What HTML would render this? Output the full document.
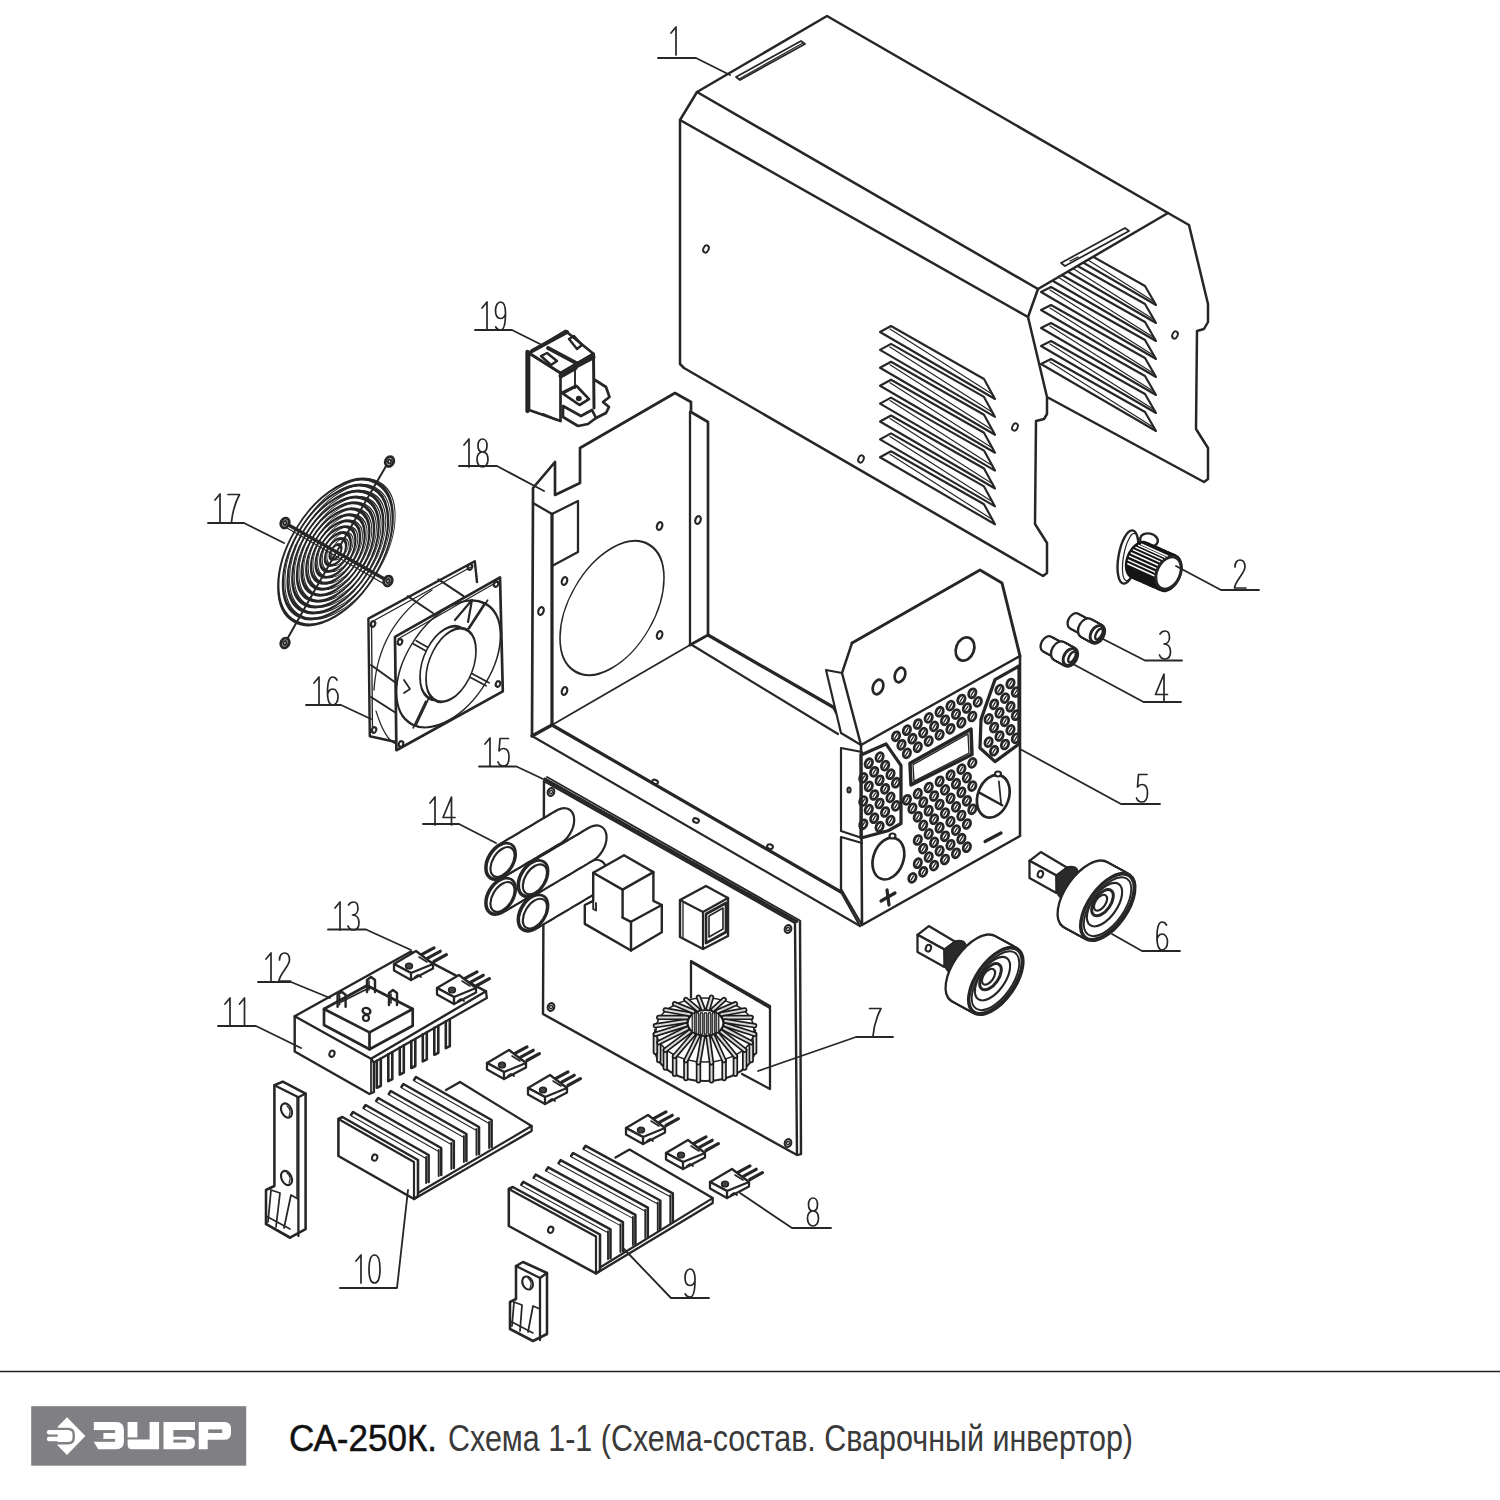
<!DOCTYPE html>
<html><head><meta charset="utf-8"><style>
html,body{margin:0;padding:0;background:#fff;}
body{width:1500px;height:1500px;position:relative;overflow:hidden;}
svg.d{position:absolute;left:0;top:0;}
.t{position:absolute;left:289px;top:1413px;font-family:"Liberation Sans",sans-serif;white-space:nowrap;color:#111;}
</style></head><body>
<svg class="d" width="1500" height="1500" viewBox="0 0 1500 1500">
<rect width="1500" height="1500" fill="#fff"/>
<g fill="none" stroke="#262626" stroke-width="2.5" stroke-linejoin="round" stroke-linecap="round">
<path d="M1038.0,289.0 L1028.0,317.0 L1047.0,397.0 L1047.0,414.0 L1044.0,419.0 L1036.0,421.0 L1035.0,524.0 L1047.0,543.0 L1047.0,573.0 L1043.0,576.0 L684.0,368.0 L680.0,364.0 L680.0,120.0 L697.0,92.0 L827.0,16.0 L1168.0,213.0 L1189.0,225.0 L1208.0,304.0 L1208.0,322.0 L1204.0,329.0 L1197.0,331.0 L1196.0,429.0 L1208.0,448.0 L1208.0,479.0 L1204.0,482.0 L1047.0,397.0"/><line x1="697.0" y1="92.0" x2="1038.0" y2="289.0"/><line x1="680.0" y1="120.0" x2="1028.0" y2="317.0"/><line x1="1038.0" y1="289.0" x2="1168.0" y2="213.0"/><path d="M736.0,77.0 L801.0,41.0 L805.0,44.0 L740.0,80.0 Z" stroke-width="1.76"/><line x1="739.0" y1="79.0" x2="803.0" y2="43.0" stroke-width="1.22"/><path d="M1061.0,263.0 L1125.0,228.0 L1129.0,231.0 L1065.0,266.0 Z" stroke-width="1.76"/><line x1="1070.0" y1="261.0" x2="1078.0" y2="257.0" stroke-width="1.35"/><path d="M880.0,332.0 L891.0,326.0 L984.0,379.0 L995.0,399.0 Z" stroke-width="2.16"/><line x1="890.0" y1="329.0" x2="992.0" y2="394.0" stroke-width="1.22"/><path d="M880.0,349.9 L891.0,343.9 L984.0,396.9 L995.0,416.9 Z" stroke-width="2.16"/><line x1="890.0" y1="346.9" x2="992.0" y2="411.9" stroke-width="1.22"/><path d="M880.0,367.8 L891.0,361.8 L984.0,414.8 L995.0,434.8 Z" stroke-width="2.16"/><line x1="890.0" y1="364.8" x2="992.0" y2="429.8" stroke-width="1.22"/><path d="M880.0,385.7 L891.0,379.7 L984.0,432.7 L995.0,452.7 Z" stroke-width="2.16"/><line x1="890.0" y1="382.7" x2="992.0" y2="447.7" stroke-width="1.22"/><path d="M880.0,403.6 L891.0,397.6 L984.0,450.6 L995.0,470.6 Z" stroke-width="2.16"/><line x1="890.0" y1="400.6" x2="992.0" y2="465.6" stroke-width="1.22"/><path d="M880.0,421.5 L891.0,415.5 L984.0,468.5 L995.0,488.5 Z" stroke-width="2.16"/><line x1="890.0" y1="418.5" x2="992.0" y2="483.5" stroke-width="1.22"/><path d="M880.0,439.4 L891.0,433.4 L984.0,486.4 L995.0,506.4 Z" stroke-width="2.16"/><line x1="890.0" y1="436.4" x2="992.0" y2="501.4" stroke-width="1.22"/><path d="M880.0,457.3 L891.0,451.3 L984.0,504.3 L995.0,524.3 Z" stroke-width="2.16"/><line x1="890.0" y1="454.3" x2="992.0" y2="519.3" stroke-width="1.22"/><clipPath id="cb"><path d="M1038,289 L1168,213 L1215,213 L1215,500 L1030,500 Z"/></clipPath><g clip-path="url(#cb)"><path d="M1041.0,238.0 L1051.0,233.0 L1145.0,286.0 L1156.0,305.0 Z" stroke-width="2.16"/><line x1="1050.0" y1="236.0" x2="1153.0" y2="301.0" stroke-width="1.22"/><path d="M1041.0,256.0 L1051.0,251.0 L1145.0,304.0 L1156.0,323.0 Z" stroke-width="2.16"/><line x1="1050.0" y1="254.0" x2="1153.0" y2="319.0" stroke-width="1.22"/><path d="M1041.0,274.0 L1051.0,269.0 L1145.0,322.0 L1156.0,341.0 Z" stroke-width="2.16"/><line x1="1050.0" y1="272.0" x2="1153.0" y2="337.0" stroke-width="1.22"/><path d="M1041.0,292.0 L1051.0,287.0 L1145.0,340.0 L1156.0,359.0 Z" stroke-width="2.16"/><line x1="1050.0" y1="290.0" x2="1153.0" y2="355.0" stroke-width="1.22"/><path d="M1041.0,310.0 L1051.0,305.0 L1145.0,358.0 L1156.0,377.0 Z" stroke-width="2.16"/><line x1="1050.0" y1="308.0" x2="1153.0" y2="373.0" stroke-width="1.22"/><path d="M1041.0,328.0 L1051.0,323.0 L1145.0,376.0 L1156.0,395.0 Z" stroke-width="2.16"/><line x1="1050.0" y1="326.0" x2="1153.0" y2="391.0" stroke-width="1.22"/><path d="M1041.0,346.0 L1051.0,341.0 L1145.0,394.0 L1156.0,413.0 Z" stroke-width="2.16"/><line x1="1050.0" y1="344.0" x2="1153.0" y2="409.0" stroke-width="1.22"/><path d="M1041.0,364.0 L1051.0,359.0 L1145.0,412.0 L1156.0,431.0 Z" stroke-width="2.16"/><line x1="1050.0" y1="362.0" x2="1153.0" y2="427.0" stroke-width="1.22"/></g><ellipse cx="706.0" cy="249.0" rx="2.6" ry="3.8" transform="rotate(25 706.0 249.0)" stroke-width="1.89"/><ellipse cx="861.0" cy="459.0" rx="2.6" ry="3.8" transform="rotate(25 861.0 459.0)" stroke-width="1.89"/><ellipse cx="1015.0" cy="427.0" rx="2.6" ry="3.8" transform="rotate(25 1015.0 427.0)" stroke-width="1.89"/><ellipse cx="1175.0" cy="335.0" rx="2.6" ry="3.8" transform="rotate(25 1175.0 335.0)" stroke-width="1.89"/><path transform="translate(669.0,27.0) scale(1.000)" d="M2,6 L7,0 L7,28" stroke-width="1.70"/><path d="M658.0,58.0 L696.0,58.0 L730.0,75.0" stroke-width="1.82"/><ellipse cx="1128.0" cy="557.0" rx="9.5" ry="27.0" transform="rotate(10 1128.0 557.0)" stroke-width="2.43" fill="#fff"/><ellipse cx="1130.5" cy="557.0" rx="7.0" ry="24.0" transform="rotate(10 1130.5 557.0)" stroke-width="1.22"/><ellipse cx="1149.0" cy="540.0" rx="9.0" ry="6.5" transform="rotate(12 1149.0 540.0)" stroke-width="2.43" fill="#fff"/><ellipse cx="1139.0" cy="560.0" rx="13" ry="20" transform="rotate(22 1139.0 560.0)" fill="#151515" stroke="none"/><ellipse cx="1141.5" cy="561.1" rx="13" ry="20" transform="rotate(22 1141.5 561.1)" fill="#151515" stroke="none"/><ellipse cx="1143.9" cy="562.2" rx="13" ry="20" transform="rotate(22 1143.9 562.2)" fill="#151515" stroke="none"/><ellipse cx="1146.4" cy="563.2" rx="13" ry="20" transform="rotate(22 1146.4 563.2)" fill="#151515" stroke="none"/><ellipse cx="1148.8" cy="564.3" rx="13" ry="20" transform="rotate(22 1148.8 564.3)" fill="#151515" stroke="none"/><ellipse cx="1151.3" cy="565.4" rx="13" ry="20" transform="rotate(22 1151.3 565.4)" fill="#151515" stroke="none"/><ellipse cx="1153.8" cy="566.5" rx="13" ry="20" transform="rotate(22 1153.8 566.5)" fill="#151515" stroke="none"/><ellipse cx="1156.2" cy="567.6" rx="13" ry="20" transform="rotate(22 1156.2 567.6)" fill="#151515" stroke="none"/><ellipse cx="1158.7" cy="568.7" rx="13" ry="20" transform="rotate(22 1158.7 568.7)" fill="#151515" stroke="none"/><ellipse cx="1161.1" cy="569.8" rx="13" ry="20" transform="rotate(22 1161.1 569.8)" fill="#151515" stroke="none"/><ellipse cx="1163.6" cy="570.8" rx="13" ry="20" transform="rotate(22 1163.6 570.8)" fill="#151515" stroke="none"/><ellipse cx="1166.0" cy="571.9" rx="13" ry="20" transform="rotate(22 1166.0 571.9)" fill="#151515" stroke="none"/><ellipse cx="1168.5" cy="573.0" rx="13" ry="20" transform="rotate(22 1168.5 573.0)" fill="#151515" stroke="none"/><line x1="1127.8" y1="563.7" x2="1154.3" y2="575.7" stroke="#fff" stroke-width="1.5"/><line x1="1128.4" y1="560.1" x2="1154.9" y2="572.1" stroke="#fff" stroke-width="1.5"/><line x1="1129.6" y1="556.4" x2="1156.1" y2="568.4" stroke="#fff" stroke-width="1.5"/><line x1="1131.3" y1="553.0" x2="1157.8" y2="565.0" stroke="#fff" stroke-width="1.5"/><line x1="1133.4" y1="549.9" x2="1159.9" y2="561.9" stroke="#fff" stroke-width="1.5"/><line x1="1136.0" y1="547.4" x2="1162.5" y2="559.4" stroke="#fff" stroke-width="1.5"/><line x1="1138.7" y1="545.4" x2="1165.2" y2="557.4" stroke="#fff" stroke-width="1.5"/><line x1="1141.5" y1="544.3" x2="1168.0" y2="556.3" stroke="#fff" stroke-width="1.5"/><ellipse cx="1168.5" cy="573.0" rx="11.5" ry="17.0" transform="rotate(25 1168.5 573.0)" stroke-width="2.97" fill="#fff"/><path transform="translate(1234.0,560.0) scale(1.000)" d="M1,7 C1,2 3.5,0 6,0 C9,0 11,2.5 11,7 C11,13 1,21 0.5,28 L12,28" stroke-width="1.70"/><path d="M1176.0,566.0 L1221.0,590.0 L1259.0,590.0" stroke-width="1.82"/><ellipse cx="1074.0" cy="621.0" rx="4.5" ry="7.2" transform="rotate(30 1074.0 621.0)" stroke-width="4.6"/><ellipse cx="1075.1" cy="621.6" rx="4.5" ry="7.2" transform="rotate(30 1075.1 621.6)" stroke-width="4.6"/><ellipse cx="1076.2" cy="622.2" rx="4.5" ry="7.2" transform="rotate(30 1076.2 622.2)" stroke-width="4.6"/><ellipse cx="1077.2" cy="622.8" rx="4.5" ry="7.2" transform="rotate(30 1077.2 622.8)" stroke-width="4.6"/><ellipse cx="1078.3" cy="623.3" rx="4.5" ry="7.2" transform="rotate(30 1078.3 623.3)" stroke-width="4.6"/><ellipse cx="1079.4" cy="623.9" rx="4.5" ry="7.2" transform="rotate(30 1079.4 623.9)" stroke-width="4.6"/><ellipse cx="1080.5" cy="624.5" rx="4.5" ry="7.2" transform="rotate(30 1080.5 624.5)" stroke-width="4.6"/><ellipse cx="1081.6" cy="625.1" rx="4.5" ry="7.2" transform="rotate(30 1081.6 625.1)" stroke-width="4.6"/><ellipse cx="1082.7" cy="625.7" rx="4.5" ry="7.2" transform="rotate(30 1082.7 625.7)" stroke-width="4.6"/><ellipse cx="1083.8" cy="626.2" rx="4.5" ry="7.2" transform="rotate(30 1083.8 626.2)" stroke-width="4.6"/><ellipse cx="1084.8" cy="626.8" rx="4.5" ry="7.2" transform="rotate(30 1084.8 626.8)" stroke-width="4.6"/><ellipse cx="1085.9" cy="627.4" rx="4.5" ry="7.2" transform="rotate(30 1085.9 627.4)" stroke-width="4.6"/><ellipse cx="1087.0" cy="628.0" rx="4.5" ry="7.2" transform="rotate(30 1087.0 628.0)" stroke-width="4.6"/><ellipse cx="1074.0" cy="621.0" rx="4.5" ry="7.2" transform="rotate(30 1074.0 621.0)" fill="#fff" stroke="none"/><ellipse cx="1075.1" cy="621.6" rx="4.5" ry="7.2" transform="rotate(30 1075.1 621.6)" fill="#fff" stroke="none"/><ellipse cx="1076.2" cy="622.2" rx="4.5" ry="7.2" transform="rotate(30 1076.2 622.2)" fill="#fff" stroke="none"/><ellipse cx="1077.2" cy="622.8" rx="4.5" ry="7.2" transform="rotate(30 1077.2 622.8)" fill="#fff" stroke="none"/><ellipse cx="1078.3" cy="623.3" rx="4.5" ry="7.2" transform="rotate(30 1078.3 623.3)" fill="#fff" stroke="none"/><ellipse cx="1079.4" cy="623.9" rx="4.5" ry="7.2" transform="rotate(30 1079.4 623.9)" fill="#fff" stroke="none"/><ellipse cx="1080.5" cy="624.5" rx="4.5" ry="7.2" transform="rotate(30 1080.5 624.5)" fill="#fff" stroke="none"/><ellipse cx="1081.6" cy="625.1" rx="4.5" ry="7.2" transform="rotate(30 1081.6 625.1)" fill="#fff" stroke="none"/><ellipse cx="1082.7" cy="625.7" rx="4.5" ry="7.2" transform="rotate(30 1082.7 625.7)" fill="#fff" stroke="none"/><ellipse cx="1083.8" cy="626.2" rx="4.5" ry="7.2" transform="rotate(30 1083.8 626.2)" fill="#fff" stroke="none"/><ellipse cx="1084.8" cy="626.8" rx="4.5" ry="7.2" transform="rotate(30 1084.8 626.8)" fill="#fff" stroke="none"/><ellipse cx="1085.9" cy="627.4" rx="4.5" ry="7.2" transform="rotate(30 1085.9 627.4)" fill="#fff" stroke="none"/><ellipse cx="1087.0" cy="628.0" rx="4.5" ry="7.2" transform="rotate(30 1087.0 628.0)" fill="#fff" stroke="none"/><ellipse cx="1086.0" cy="628.0" rx="6" ry="9" transform="rotate(30 1086.0 628.0)" stroke-width="4.6"/><ellipse cx="1086.9" cy="628.5" rx="6" ry="9" transform="rotate(30 1086.9 628.5)" stroke-width="4.6"/><ellipse cx="1087.8" cy="629.0" rx="6" ry="9" transform="rotate(30 1087.8 629.0)" stroke-width="4.6"/><ellipse cx="1088.8" cy="629.5" rx="6" ry="9" transform="rotate(30 1088.8 629.5)" stroke-width="4.6"/><ellipse cx="1089.7" cy="630.0" rx="6" ry="9" transform="rotate(30 1089.7 630.0)" stroke-width="4.6"/><ellipse cx="1090.6" cy="630.5" rx="6" ry="9" transform="rotate(30 1090.6 630.5)" stroke-width="4.6"/><ellipse cx="1091.5" cy="631.0" rx="6" ry="9" transform="rotate(30 1091.5 631.0)" stroke-width="4.6"/><ellipse cx="1092.4" cy="631.5" rx="6" ry="9" transform="rotate(30 1092.4 631.5)" stroke-width="4.6"/><ellipse cx="1093.3" cy="632.0" rx="6" ry="9" transform="rotate(30 1093.3 632.0)" stroke-width="4.6"/><ellipse cx="1094.2" cy="632.5" rx="6" ry="9" transform="rotate(30 1094.2 632.5)" stroke-width="4.6"/><ellipse cx="1095.2" cy="633.0" rx="6" ry="9" transform="rotate(30 1095.2 633.0)" stroke-width="4.6"/><ellipse cx="1096.1" cy="633.5" rx="6" ry="9" transform="rotate(30 1096.1 633.5)" stroke-width="4.6"/><ellipse cx="1097.0" cy="634.0" rx="6" ry="9" transform="rotate(30 1097.0 634.0)" stroke-width="4.6"/><ellipse cx="1086.0" cy="628.0" rx="6" ry="9" transform="rotate(30 1086.0 628.0)" fill="#fff" stroke="none"/><ellipse cx="1086.9" cy="628.5" rx="6" ry="9" transform="rotate(30 1086.9 628.5)" fill="#fff" stroke="none"/><ellipse cx="1087.8" cy="629.0" rx="6" ry="9" transform="rotate(30 1087.8 629.0)" fill="#fff" stroke="none"/><ellipse cx="1088.8" cy="629.5" rx="6" ry="9" transform="rotate(30 1088.8 629.5)" fill="#fff" stroke="none"/><ellipse cx="1089.7" cy="630.0" rx="6" ry="9" transform="rotate(30 1089.7 630.0)" fill="#fff" stroke="none"/><ellipse cx="1090.6" cy="630.5" rx="6" ry="9" transform="rotate(30 1090.6 630.5)" fill="#fff" stroke="none"/><ellipse cx="1091.5" cy="631.0" rx="6" ry="9" transform="rotate(30 1091.5 631.0)" fill="#fff" stroke="none"/><ellipse cx="1092.4" cy="631.5" rx="6" ry="9" transform="rotate(30 1092.4 631.5)" fill="#fff" stroke="none"/><ellipse cx="1093.3" cy="632.0" rx="6" ry="9" transform="rotate(30 1093.3 632.0)" fill="#fff" stroke="none"/><ellipse cx="1094.2" cy="632.5" rx="6" ry="9" transform="rotate(30 1094.2 632.5)" fill="#fff" stroke="none"/><ellipse cx="1095.2" cy="633.0" rx="6" ry="9" transform="rotate(30 1095.2 633.0)" fill="#fff" stroke="none"/><ellipse cx="1096.1" cy="633.5" rx="6" ry="9" transform="rotate(30 1096.1 633.5)" fill="#fff" stroke="none"/><ellipse cx="1097.0" cy="634.0" rx="6" ry="9" transform="rotate(30 1097.0 634.0)" fill="#fff" stroke="none"/><ellipse cx="1097.0" cy="634.0" rx="6.0" ry="9.0" transform="rotate(30 1097.0 634.0)" stroke-width="2.97"/><ellipse cx="1099.0" cy="634.0" rx="2.8" ry="6.0" transform="rotate(30 1099.0 634.0)" stroke-width="2.43"/><ellipse cx="1047.0" cy="644.0" rx="4.5" ry="7.2" transform="rotate(30 1047.0 644.0)" stroke-width="4.6"/><ellipse cx="1048.1" cy="644.6" rx="4.5" ry="7.2" transform="rotate(30 1048.1 644.6)" stroke-width="4.6"/><ellipse cx="1049.2" cy="645.2" rx="4.5" ry="7.2" transform="rotate(30 1049.2 645.2)" stroke-width="4.6"/><ellipse cx="1050.2" cy="645.8" rx="4.5" ry="7.2" transform="rotate(30 1050.2 645.8)" stroke-width="4.6"/><ellipse cx="1051.3" cy="646.3" rx="4.5" ry="7.2" transform="rotate(30 1051.3 646.3)" stroke-width="4.6"/><ellipse cx="1052.4" cy="646.9" rx="4.5" ry="7.2" transform="rotate(30 1052.4 646.9)" stroke-width="4.6"/><ellipse cx="1053.5" cy="647.5" rx="4.5" ry="7.2" transform="rotate(30 1053.5 647.5)" stroke-width="4.6"/><ellipse cx="1054.6" cy="648.1" rx="4.5" ry="7.2" transform="rotate(30 1054.6 648.1)" stroke-width="4.6"/><ellipse cx="1055.7" cy="648.7" rx="4.5" ry="7.2" transform="rotate(30 1055.7 648.7)" stroke-width="4.6"/><ellipse cx="1056.8" cy="649.2" rx="4.5" ry="7.2" transform="rotate(30 1056.8 649.2)" stroke-width="4.6"/><ellipse cx="1057.8" cy="649.8" rx="4.5" ry="7.2" transform="rotate(30 1057.8 649.8)" stroke-width="4.6"/><ellipse cx="1058.9" cy="650.4" rx="4.5" ry="7.2" transform="rotate(30 1058.9 650.4)" stroke-width="4.6"/><ellipse cx="1060.0" cy="651.0" rx="4.5" ry="7.2" transform="rotate(30 1060.0 651.0)" stroke-width="4.6"/><ellipse cx="1047.0" cy="644.0" rx="4.5" ry="7.2" transform="rotate(30 1047.0 644.0)" fill="#fff" stroke="none"/><ellipse cx="1048.1" cy="644.6" rx="4.5" ry="7.2" transform="rotate(30 1048.1 644.6)" fill="#fff" stroke="none"/><ellipse cx="1049.2" cy="645.2" rx="4.5" ry="7.2" transform="rotate(30 1049.2 645.2)" fill="#fff" stroke="none"/><ellipse cx="1050.2" cy="645.8" rx="4.5" ry="7.2" transform="rotate(30 1050.2 645.8)" fill="#fff" stroke="none"/><ellipse cx="1051.3" cy="646.3" rx="4.5" ry="7.2" transform="rotate(30 1051.3 646.3)" fill="#fff" stroke="none"/><ellipse cx="1052.4" cy="646.9" rx="4.5" ry="7.2" transform="rotate(30 1052.4 646.9)" fill="#fff" stroke="none"/><ellipse cx="1053.5" cy="647.5" rx="4.5" ry="7.2" transform="rotate(30 1053.5 647.5)" fill="#fff" stroke="none"/><ellipse cx="1054.6" cy="648.1" rx="4.5" ry="7.2" transform="rotate(30 1054.6 648.1)" fill="#fff" stroke="none"/><ellipse cx="1055.7" cy="648.7" rx="4.5" ry="7.2" transform="rotate(30 1055.7 648.7)" fill="#fff" stroke="none"/><ellipse cx="1056.8" cy="649.2" rx="4.5" ry="7.2" transform="rotate(30 1056.8 649.2)" fill="#fff" stroke="none"/><ellipse cx="1057.8" cy="649.8" rx="4.5" ry="7.2" transform="rotate(30 1057.8 649.8)" fill="#fff" stroke="none"/><ellipse cx="1058.9" cy="650.4" rx="4.5" ry="7.2" transform="rotate(30 1058.9 650.4)" fill="#fff" stroke="none"/><ellipse cx="1060.0" cy="651.0" rx="4.5" ry="7.2" transform="rotate(30 1060.0 651.0)" fill="#fff" stroke="none"/><ellipse cx="1059.0" cy="651.0" rx="6" ry="9" transform="rotate(30 1059.0 651.0)" stroke-width="4.6"/><ellipse cx="1059.9" cy="651.5" rx="6" ry="9" transform="rotate(30 1059.9 651.5)" stroke-width="4.6"/><ellipse cx="1060.8" cy="652.0" rx="6" ry="9" transform="rotate(30 1060.8 652.0)" stroke-width="4.6"/><ellipse cx="1061.8" cy="652.5" rx="6" ry="9" transform="rotate(30 1061.8 652.5)" stroke-width="4.6"/><ellipse cx="1062.7" cy="653.0" rx="6" ry="9" transform="rotate(30 1062.7 653.0)" stroke-width="4.6"/><ellipse cx="1063.6" cy="653.5" rx="6" ry="9" transform="rotate(30 1063.6 653.5)" stroke-width="4.6"/><ellipse cx="1064.5" cy="654.0" rx="6" ry="9" transform="rotate(30 1064.5 654.0)" stroke-width="4.6"/><ellipse cx="1065.4" cy="654.5" rx="6" ry="9" transform="rotate(30 1065.4 654.5)" stroke-width="4.6"/><ellipse cx="1066.3" cy="655.0" rx="6" ry="9" transform="rotate(30 1066.3 655.0)" stroke-width="4.6"/><ellipse cx="1067.2" cy="655.5" rx="6" ry="9" transform="rotate(30 1067.2 655.5)" stroke-width="4.6"/><ellipse cx="1068.2" cy="656.0" rx="6" ry="9" transform="rotate(30 1068.2 656.0)" stroke-width="4.6"/><ellipse cx="1069.1" cy="656.5" rx="6" ry="9" transform="rotate(30 1069.1 656.5)" stroke-width="4.6"/><ellipse cx="1070.0" cy="657.0" rx="6" ry="9" transform="rotate(30 1070.0 657.0)" stroke-width="4.6"/><ellipse cx="1059.0" cy="651.0" rx="6" ry="9" transform="rotate(30 1059.0 651.0)" fill="#fff" stroke="none"/><ellipse cx="1059.9" cy="651.5" rx="6" ry="9" transform="rotate(30 1059.9 651.5)" fill="#fff" stroke="none"/><ellipse cx="1060.8" cy="652.0" rx="6" ry="9" transform="rotate(30 1060.8 652.0)" fill="#fff" stroke="none"/><ellipse cx="1061.8" cy="652.5" rx="6" ry="9" transform="rotate(30 1061.8 652.5)" fill="#fff" stroke="none"/><ellipse cx="1062.7" cy="653.0" rx="6" ry="9" transform="rotate(30 1062.7 653.0)" fill="#fff" stroke="none"/><ellipse cx="1063.6" cy="653.5" rx="6" ry="9" transform="rotate(30 1063.6 653.5)" fill="#fff" stroke="none"/><ellipse cx="1064.5" cy="654.0" rx="6" ry="9" transform="rotate(30 1064.5 654.0)" fill="#fff" stroke="none"/><ellipse cx="1065.4" cy="654.5" rx="6" ry="9" transform="rotate(30 1065.4 654.5)" fill="#fff" stroke="none"/><ellipse cx="1066.3" cy="655.0" rx="6" ry="9" transform="rotate(30 1066.3 655.0)" fill="#fff" stroke="none"/><ellipse cx="1067.2" cy="655.5" rx="6" ry="9" transform="rotate(30 1067.2 655.5)" fill="#fff" stroke="none"/><ellipse cx="1068.2" cy="656.0" rx="6" ry="9" transform="rotate(30 1068.2 656.0)" fill="#fff" stroke="none"/><ellipse cx="1069.1" cy="656.5" rx="6" ry="9" transform="rotate(30 1069.1 656.5)" fill="#fff" stroke="none"/><ellipse cx="1070.0" cy="657.0" rx="6" ry="9" transform="rotate(30 1070.0 657.0)" fill="#fff" stroke="none"/><ellipse cx="1070.0" cy="657.0" rx="6.0" ry="9.0" transform="rotate(30 1070.0 657.0)" stroke-width="2.97"/><ellipse cx="1072.0" cy="657.0" rx="2.8" ry="6.0" transform="rotate(30 1072.0 657.0)" stroke-width="2.43"/><path transform="translate(1159.0,631.0) scale(1.000)" d="M1,3 C2.5,0.5 4,0 6,0 C9,0 10.5,3 10.5,6.5 C10.5,10.5 8,13 5,13 C9,13 11.5,16 11.5,20.5 C11.5,25.5 9,28 6,28 C3,28 1.2,26 0.5,24" stroke-width="1.70"/><path d="M1103.0,639.0 L1145.0,660.5 L1182.0,660.5" stroke-width="1.82"/><path transform="translate(1155.0,674.0) scale(1.000)" d="M9,28 L9,0 L0.5,20.5 L12.5,20.5" stroke-width="1.70"/><path d="M1073.0,664.0 L1143.5,702.0 L1181.0,702.0" stroke-width="1.82"/><path d="M852.0,643.0 L980.0,570.0 L1002.0,583.0 L1020.0,656.0" stroke-width="2.97"/><path d="M852.0,643.0 L842.0,673.0 L861.0,745.0" stroke-width="2.43"/><path d="M842.0,673.0 L826.0,670.0 L841.0,733.0 L861.0,745.0" stroke-width="2.16"/><ellipse cx="878.0" cy="687.0" rx="5.0" ry="7.5" transform="rotate(20 878.0 687.0)" stroke-width="2.70"/><ellipse cx="900.0" cy="675.0" rx="5.0" ry="7.5" transform="rotate(20 900.0 675.0)" stroke-width="2.70"/><ellipse cx="965.0" cy="649.0" rx="9.0" ry="12.0" transform="rotate(20 965.0 649.0)" stroke-width="2.70"/><path d="M861.0,745.0 L1020.0,656.0 L1020.0,836.0 L862.0,925.0 Z" stroke-width="2.56"/><path d="M862.0,752.0 L841.0,748.0 L841.0,831.0 L862.0,838.0" stroke-width="2.16"/><path d="M862.0,843.0 L841.0,837.0 L841.0,889.0 L862.0,925.0" stroke-width="2.16"/><ellipse cx="849.0" cy="790.0" rx="1.5" ry="2.5" stroke-width="2.16"/><ellipse cx="896.0" cy="736.3" rx="3.4" ry="4.6" transform="rotate(25 896.0 736.3)" stroke-width="2.84"/><line x1="894.8" y1="738.3" x2="897.2" y2="734.3" stroke-width="1.35"/><ellipse cx="906.9" cy="730.2" rx="3.4" ry="4.6" transform="rotate(25 906.9 730.2)" stroke-width="2.84"/><line x1="905.7" y1="732.2" x2="908.1" y2="728.2" stroke-width="1.35"/><ellipse cx="917.8" cy="724.0" rx="3.4" ry="4.6" transform="rotate(25 917.8 724.0)" stroke-width="2.84"/><line x1="916.6" y1="726.0" x2="919.0" y2="722.0" stroke-width="1.35"/><ellipse cx="928.7" cy="717.9" rx="3.4" ry="4.6" transform="rotate(25 928.7 717.9)" stroke-width="2.84"/><line x1="927.5" y1="719.9" x2="929.9" y2="715.9" stroke-width="1.35"/><ellipse cx="939.6" cy="711.7" rx="3.4" ry="4.6" transform="rotate(25 939.6 711.7)" stroke-width="2.84"/><line x1="938.4" y1="713.7" x2="940.8" y2="709.7" stroke-width="1.35"/><ellipse cx="950.5" cy="705.6" rx="3.4" ry="4.6" transform="rotate(25 950.5 705.6)" stroke-width="2.84"/><line x1="949.3" y1="707.6" x2="951.7" y2="703.6" stroke-width="1.35"/><ellipse cx="961.4" cy="699.5" rx="3.4" ry="4.6" transform="rotate(25 961.4 699.5)" stroke-width="2.84"/><line x1="960.2" y1="701.5" x2="962.6" y2="697.5" stroke-width="1.35"/><ellipse cx="972.3" cy="693.3" rx="3.4" ry="4.6" transform="rotate(25 972.3 693.3)" stroke-width="2.84"/><line x1="971.1" y1="695.3" x2="973.5" y2="691.3" stroke-width="1.35"/><ellipse cx="868.8" cy="763.2" rx="3.4" ry="4.6" transform="rotate(25 868.8 763.2)" stroke-width="2.84"/><line x1="867.5" y1="765.2" x2="870.0" y2="761.2" stroke-width="1.35"/><ellipse cx="879.6" cy="757.1" rx="3.4" ry="4.6" transform="rotate(25 879.6 757.1)" stroke-width="2.84"/><line x1="878.4" y1="759.1" x2="880.9" y2="755.1" stroke-width="1.35"/><ellipse cx="901.5" cy="744.8" rx="3.4" ry="4.6" transform="rotate(25 901.5 744.8)" stroke-width="2.84"/><line x1="900.2" y1="746.8" x2="902.7" y2="742.8" stroke-width="1.35"/><ellipse cx="912.4" cy="738.7" rx="3.4" ry="4.6" transform="rotate(25 912.4 738.7)" stroke-width="2.84"/><line x1="911.1" y1="740.7" x2="913.6" y2="736.7" stroke-width="1.35"/><ellipse cx="923.2" cy="732.6" rx="3.4" ry="4.6" transform="rotate(25 923.2 732.6)" stroke-width="2.84"/><line x1="922.0" y1="734.6" x2="924.5" y2="730.6" stroke-width="1.35"/><ellipse cx="934.1" cy="726.4" rx="3.4" ry="4.6" transform="rotate(25 934.1 726.4)" stroke-width="2.84"/><line x1="932.9" y1="728.4" x2="935.4" y2="724.4" stroke-width="1.35"/><ellipse cx="945.0" cy="720.3" rx="3.4" ry="4.6" transform="rotate(25 945.0 720.3)" stroke-width="2.84"/><line x1="943.8" y1="722.3" x2="946.2" y2="718.3" stroke-width="1.35"/><ellipse cx="956.0" cy="714.1" rx="3.4" ry="4.6" transform="rotate(25 956.0 714.1)" stroke-width="2.84"/><line x1="954.8" y1="716.1" x2="957.2" y2="712.1" stroke-width="1.35"/><ellipse cx="966.9" cy="708.0" rx="3.4" ry="4.6" transform="rotate(25 966.9 708.0)" stroke-width="2.84"/><line x1="965.6" y1="710.0" x2="968.1" y2="706.0" stroke-width="1.35"/><ellipse cx="977.8" cy="701.9" rx="3.4" ry="4.6" transform="rotate(25 977.8 701.9)" stroke-width="2.84"/><line x1="976.5" y1="703.9" x2="979.0" y2="699.9" stroke-width="1.35"/><ellipse cx="999.5" cy="689.6" rx="3.4" ry="4.6" transform="rotate(25 999.5 689.6)" stroke-width="2.84"/><line x1="998.3" y1="691.6" x2="1000.8" y2="687.6" stroke-width="1.35"/><ellipse cx="1010.5" cy="683.5" rx="3.4" ry="4.6" transform="rotate(25 1010.5 683.5)" stroke-width="2.84"/><line x1="1009.2" y1="685.5" x2="1011.7" y2="681.5" stroke-width="1.35"/><ellipse cx="863.3" cy="777.9" rx="3.4" ry="4.6" transform="rotate(25 863.3 777.9)" stroke-width="2.84"/><line x1="862.1" y1="779.9" x2="864.5" y2="775.9" stroke-width="1.35"/><ellipse cx="874.2" cy="771.8" rx="3.4" ry="4.6" transform="rotate(25 874.2 771.8)" stroke-width="2.84"/><line x1="873.0" y1="773.8" x2="875.4" y2="769.8" stroke-width="1.35"/><ellipse cx="885.1" cy="765.6" rx="3.4" ry="4.6" transform="rotate(25 885.1 765.6)" stroke-width="2.84"/><line x1="883.9" y1="767.6" x2="886.3" y2="763.6" stroke-width="1.35"/><ellipse cx="906.9" cy="753.4" rx="3.4" ry="4.6" transform="rotate(25 906.9 753.4)" stroke-width="2.84"/><line x1="905.7" y1="755.4" x2="908.1" y2="751.4" stroke-width="1.35"/><ellipse cx="917.8" cy="747.2" rx="3.4" ry="4.6" transform="rotate(25 917.8 747.2)" stroke-width="2.84"/><line x1="916.6" y1="749.2" x2="919.0" y2="745.2" stroke-width="1.35"/><ellipse cx="928.7" cy="741.1" rx="3.4" ry="4.6" transform="rotate(25 928.7 741.1)" stroke-width="2.84"/><line x1="927.5" y1="743.1" x2="929.9" y2="739.1" stroke-width="1.35"/><ellipse cx="939.6" cy="734.9" rx="3.4" ry="4.6" transform="rotate(25 939.6 734.9)" stroke-width="2.84"/><line x1="938.4" y1="736.9" x2="940.8" y2="732.9" stroke-width="1.35"/><ellipse cx="950.5" cy="728.8" rx="3.4" ry="4.6" transform="rotate(25 950.5 728.8)" stroke-width="2.84"/><line x1="949.3" y1="730.8" x2="951.7" y2="726.8" stroke-width="1.35"/><ellipse cx="961.4" cy="722.7" rx="3.4" ry="4.6" transform="rotate(25 961.4 722.7)" stroke-width="2.84"/><line x1="960.2" y1="724.7" x2="962.6" y2="720.7" stroke-width="1.35"/><ellipse cx="972.3" cy="716.5" rx="3.4" ry="4.6" transform="rotate(25 972.3 716.5)" stroke-width="2.84"/><line x1="971.1" y1="718.5" x2="973.5" y2="714.5" stroke-width="1.35"/><ellipse cx="994.1" cy="704.3" rx="3.4" ry="4.6" transform="rotate(25 994.1 704.3)" stroke-width="2.84"/><line x1="992.9" y1="706.3" x2="995.3" y2="702.3" stroke-width="1.35"/><ellipse cx="1005.0" cy="698.1" rx="3.4" ry="4.6" transform="rotate(25 1005.0 698.1)" stroke-width="2.84"/><line x1="1003.8" y1="700.1" x2="1006.2" y2="696.1" stroke-width="1.35"/><ellipse cx="1015.9" cy="692.0" rx="3.4" ry="4.6" transform="rotate(25 1015.9 692.0)" stroke-width="2.84"/><line x1="1014.7" y1="694.0" x2="1017.1" y2="690.0" stroke-width="1.35"/><ellipse cx="868.8" cy="786.4" rx="3.4" ry="4.6" transform="rotate(25 868.8 786.4)" stroke-width="2.84"/><line x1="867.5" y1="788.4" x2="870.0" y2="784.4" stroke-width="1.35"/><ellipse cx="879.6" cy="780.3" rx="3.4" ry="4.6" transform="rotate(25 879.6 780.3)" stroke-width="2.84"/><line x1="878.4" y1="782.3" x2="880.9" y2="778.3" stroke-width="1.35"/><ellipse cx="890.5" cy="774.2" rx="3.4" ry="4.6" transform="rotate(25 890.5 774.2)" stroke-width="2.84"/><line x1="889.3" y1="776.2" x2="891.8" y2="772.2" stroke-width="1.35"/><ellipse cx="988.6" cy="718.9" rx="3.4" ry="4.6" transform="rotate(25 988.6 718.9)" stroke-width="2.84"/><line x1="987.4" y1="720.9" x2="989.9" y2="716.9" stroke-width="1.35"/><ellipse cx="999.5" cy="712.8" rx="3.4" ry="4.6" transform="rotate(25 999.5 712.8)" stroke-width="2.84"/><line x1="998.3" y1="714.8" x2="1000.8" y2="710.8" stroke-width="1.35"/><ellipse cx="1010.5" cy="706.7" rx="3.4" ry="4.6" transform="rotate(25 1010.5 706.7)" stroke-width="2.84"/><line x1="1009.2" y1="708.7" x2="1011.7" y2="704.7" stroke-width="1.35"/><ellipse cx="863.3" cy="801.1" rx="3.4" ry="4.6" transform="rotate(25 863.3 801.1)" stroke-width="2.84"/><line x1="862.1" y1="803.1" x2="864.5" y2="799.1" stroke-width="1.35"/><ellipse cx="874.2" cy="795.0" rx="3.4" ry="4.6" transform="rotate(25 874.2 795.0)" stroke-width="2.84"/><line x1="873.0" y1="797.0" x2="875.4" y2="793.0" stroke-width="1.35"/><ellipse cx="885.1" cy="788.8" rx="3.4" ry="4.6" transform="rotate(25 885.1 788.8)" stroke-width="2.84"/><line x1="883.9" y1="790.8" x2="886.3" y2="786.8" stroke-width="1.35"/><ellipse cx="896.0" cy="782.7" rx="3.4" ry="4.6" transform="rotate(25 896.0 782.7)" stroke-width="2.84"/><line x1="894.8" y1="784.7" x2="897.2" y2="780.7" stroke-width="1.35"/><ellipse cx="994.1" cy="727.5" rx="3.4" ry="4.6" transform="rotate(25 994.1 727.5)" stroke-width="2.84"/><line x1="992.9" y1="729.5" x2="995.3" y2="725.5" stroke-width="1.35"/><ellipse cx="1005.0" cy="721.3" rx="3.4" ry="4.6" transform="rotate(25 1005.0 721.3)" stroke-width="2.84"/><line x1="1003.8" y1="723.3" x2="1006.2" y2="719.3" stroke-width="1.35"/><ellipse cx="1015.9" cy="715.2" rx="3.4" ry="4.6" transform="rotate(25 1015.9 715.2)" stroke-width="2.84"/><line x1="1014.7" y1="717.2" x2="1017.1" y2="713.2" stroke-width="1.35"/><ellipse cx="868.8" cy="809.6" rx="3.4" ry="4.6" transform="rotate(25 868.8 809.6)" stroke-width="2.84"/><line x1="867.5" y1="811.6" x2="870.0" y2="807.6" stroke-width="1.35"/><ellipse cx="879.6" cy="803.5" rx="3.4" ry="4.6" transform="rotate(25 879.6 803.5)" stroke-width="2.84"/><line x1="878.4" y1="805.5" x2="880.9" y2="801.5" stroke-width="1.35"/><ellipse cx="890.5" cy="797.4" rx="3.4" ry="4.6" transform="rotate(25 890.5 797.4)" stroke-width="2.84"/><line x1="889.3" y1="799.4" x2="891.8" y2="795.4" stroke-width="1.35"/><ellipse cx="988.6" cy="742.1" rx="3.4" ry="4.6" transform="rotate(25 988.6 742.1)" stroke-width="2.84"/><line x1="987.4" y1="744.1" x2="989.9" y2="740.1" stroke-width="1.35"/><ellipse cx="999.5" cy="736.0" rx="3.4" ry="4.6" transform="rotate(25 999.5 736.0)" stroke-width="2.84"/><line x1="998.3" y1="738.0" x2="1000.8" y2="734.0" stroke-width="1.35"/><ellipse cx="1010.5" cy="729.9" rx="3.4" ry="4.6" transform="rotate(25 1010.5 729.9)" stroke-width="2.84"/><line x1="1009.2" y1="731.9" x2="1011.7" y2="727.9" stroke-width="1.35"/><ellipse cx="863.3" cy="824.3" rx="3.4" ry="4.6" transform="rotate(25 863.3 824.3)" stroke-width="2.84"/><line x1="862.1" y1="826.3" x2="864.5" y2="822.3" stroke-width="1.35"/><ellipse cx="874.2" cy="818.2" rx="3.4" ry="4.6" transform="rotate(25 874.2 818.2)" stroke-width="2.84"/><line x1="873.0" y1="820.2" x2="875.4" y2="816.2" stroke-width="1.35"/><ellipse cx="885.1" cy="812.0" rx="3.4" ry="4.6" transform="rotate(25 885.1 812.0)" stroke-width="2.84"/><line x1="883.9" y1="814.0" x2="886.3" y2="810.0" stroke-width="1.35"/><ellipse cx="896.0" cy="805.9" rx="3.4" ry="4.6" transform="rotate(25 896.0 805.9)" stroke-width="2.84"/><line x1="894.8" y1="807.9" x2="897.2" y2="803.9" stroke-width="1.35"/><ellipse cx="906.9" cy="799.8" rx="3.4" ry="4.6" transform="rotate(25 906.9 799.8)" stroke-width="2.84"/><line x1="905.7" y1="801.8" x2="908.1" y2="797.8" stroke-width="1.35"/><ellipse cx="917.8" cy="793.6" rx="3.4" ry="4.6" transform="rotate(25 917.8 793.6)" stroke-width="2.84"/><line x1="916.6" y1="795.6" x2="919.0" y2="791.6" stroke-width="1.35"/><ellipse cx="928.7" cy="787.5" rx="3.4" ry="4.6" transform="rotate(25 928.7 787.5)" stroke-width="2.84"/><line x1="927.5" y1="789.5" x2="929.9" y2="785.5" stroke-width="1.35"/><ellipse cx="939.6" cy="781.3" rx="3.4" ry="4.6" transform="rotate(25 939.6 781.3)" stroke-width="2.84"/><line x1="938.4" y1="783.3" x2="940.8" y2="779.3" stroke-width="1.35"/><ellipse cx="950.5" cy="775.2" rx="3.4" ry="4.6" transform="rotate(25 950.5 775.2)" stroke-width="2.84"/><line x1="949.3" y1="777.2" x2="951.7" y2="773.2" stroke-width="1.35"/><ellipse cx="961.4" cy="769.1" rx="3.4" ry="4.6" transform="rotate(25 961.4 769.1)" stroke-width="2.84"/><line x1="960.2" y1="771.1" x2="962.6" y2="767.1" stroke-width="1.35"/><ellipse cx="972.3" cy="762.9" rx="3.4" ry="4.6" transform="rotate(25 972.3 762.9)" stroke-width="2.84"/><line x1="971.1" y1="764.9" x2="973.5" y2="760.9" stroke-width="1.35"/><ellipse cx="994.1" cy="750.7" rx="3.4" ry="4.6" transform="rotate(25 994.1 750.7)" stroke-width="2.84"/><line x1="992.9" y1="752.7" x2="995.3" y2="748.7" stroke-width="1.35"/><ellipse cx="1005.0" cy="744.5" rx="3.4" ry="4.6" transform="rotate(25 1005.0 744.5)" stroke-width="2.84"/><line x1="1003.8" y1="746.5" x2="1006.2" y2="742.5" stroke-width="1.35"/><ellipse cx="1015.9" cy="738.4" rx="3.4" ry="4.6" transform="rotate(25 1015.9 738.4)" stroke-width="2.84"/><line x1="1014.7" y1="740.4" x2="1017.1" y2="736.4" stroke-width="1.35"/><ellipse cx="879.6" cy="826.7" rx="3.4" ry="4.6" transform="rotate(25 879.6 826.7)" stroke-width="2.84"/><line x1="878.4" y1="828.7" x2="880.9" y2="824.7" stroke-width="1.35"/><ellipse cx="890.5" cy="820.6" rx="3.4" ry="4.6" transform="rotate(25 890.5 820.6)" stroke-width="2.84"/><line x1="889.3" y1="822.6" x2="891.8" y2="818.6" stroke-width="1.35"/><ellipse cx="912.4" cy="808.3" rx="3.4" ry="4.6" transform="rotate(25 912.4 808.3)" stroke-width="2.84"/><line x1="911.1" y1="810.3" x2="913.6" y2="806.3" stroke-width="1.35"/><ellipse cx="923.2" cy="802.2" rx="3.4" ry="4.6" transform="rotate(25 923.2 802.2)" stroke-width="2.84"/><line x1="922.0" y1="804.2" x2="924.5" y2="800.2" stroke-width="1.35"/><ellipse cx="934.1" cy="796.0" rx="3.4" ry="4.6" transform="rotate(25 934.1 796.0)" stroke-width="2.84"/><line x1="932.9" y1="798.0" x2="935.4" y2="794.0" stroke-width="1.35"/><ellipse cx="945.0" cy="789.9" rx="3.4" ry="4.6" transform="rotate(25 945.0 789.9)" stroke-width="2.84"/><line x1="943.8" y1="791.9" x2="946.2" y2="787.9" stroke-width="1.35"/><ellipse cx="956.0" cy="783.7" rx="3.4" ry="4.6" transform="rotate(25 956.0 783.7)" stroke-width="2.84"/><line x1="954.8" y1="785.7" x2="957.2" y2="781.7" stroke-width="1.35"/><ellipse cx="966.9" cy="777.6" rx="3.4" ry="4.6" transform="rotate(25 966.9 777.6)" stroke-width="2.84"/><line x1="965.6" y1="779.6" x2="968.1" y2="775.6" stroke-width="1.35"/><ellipse cx="917.8" cy="816.8" rx="3.4" ry="4.6" transform="rotate(25 917.8 816.8)" stroke-width="2.84"/><line x1="916.6" y1="818.8" x2="919.0" y2="814.8" stroke-width="1.35"/><ellipse cx="928.7" cy="810.7" rx="3.4" ry="4.6" transform="rotate(25 928.7 810.7)" stroke-width="2.84"/><line x1="927.5" y1="812.7" x2="929.9" y2="808.7" stroke-width="1.35"/><ellipse cx="939.6" cy="804.5" rx="3.4" ry="4.6" transform="rotate(25 939.6 804.5)" stroke-width="2.84"/><line x1="938.4" y1="806.5" x2="940.8" y2="802.5" stroke-width="1.35"/><ellipse cx="950.5" cy="798.4" rx="3.4" ry="4.6" transform="rotate(25 950.5 798.4)" stroke-width="2.84"/><line x1="949.3" y1="800.4" x2="951.7" y2="796.4" stroke-width="1.35"/><ellipse cx="961.4" cy="792.3" rx="3.4" ry="4.6" transform="rotate(25 961.4 792.3)" stroke-width="2.84"/><line x1="960.2" y1="794.3" x2="962.6" y2="790.3" stroke-width="1.35"/><ellipse cx="972.3" cy="786.1" rx="3.4" ry="4.6" transform="rotate(25 972.3 786.1)" stroke-width="2.84"/><line x1="971.1" y1="788.1" x2="973.5" y2="784.1" stroke-width="1.35"/><ellipse cx="923.2" cy="825.4" rx="3.4" ry="4.6" transform="rotate(25 923.2 825.4)" stroke-width="2.84"/><line x1="922.0" y1="827.4" x2="924.5" y2="823.4" stroke-width="1.35"/><ellipse cx="934.1" cy="819.2" rx="3.4" ry="4.6" transform="rotate(25 934.1 819.2)" stroke-width="2.84"/><line x1="932.9" y1="821.2" x2="935.4" y2="817.2" stroke-width="1.35"/><ellipse cx="945.0" cy="813.1" rx="3.4" ry="4.6" transform="rotate(25 945.0 813.1)" stroke-width="2.84"/><line x1="943.8" y1="815.1" x2="946.2" y2="811.1" stroke-width="1.35"/><ellipse cx="956.0" cy="806.9" rx="3.4" ry="4.6" transform="rotate(25 956.0 806.9)" stroke-width="2.84"/><line x1="954.8" y1="808.9" x2="957.2" y2="804.9" stroke-width="1.35"/><ellipse cx="966.9" cy="800.8" rx="3.4" ry="4.6" transform="rotate(25 966.9 800.8)" stroke-width="2.84"/><line x1="965.6" y1="802.8" x2="968.1" y2="798.8" stroke-width="1.35"/><ellipse cx="917.8" cy="840.0" rx="3.4" ry="4.6" transform="rotate(25 917.8 840.0)" stroke-width="2.84"/><line x1="916.6" y1="842.0" x2="919.0" y2="838.0" stroke-width="1.35"/><ellipse cx="928.7" cy="833.9" rx="3.4" ry="4.6" transform="rotate(25 928.7 833.9)" stroke-width="2.84"/><line x1="927.5" y1="835.9" x2="929.9" y2="831.9" stroke-width="1.35"/><ellipse cx="939.6" cy="827.7" rx="3.4" ry="4.6" transform="rotate(25 939.6 827.7)" stroke-width="2.84"/><line x1="938.4" y1="829.7" x2="940.8" y2="825.7" stroke-width="1.35"/><ellipse cx="950.5" cy="821.6" rx="3.4" ry="4.6" transform="rotate(25 950.5 821.6)" stroke-width="2.84"/><line x1="949.3" y1="823.6" x2="951.7" y2="819.6" stroke-width="1.35"/><ellipse cx="961.4" cy="815.5" rx="3.4" ry="4.6" transform="rotate(25 961.4 815.5)" stroke-width="2.84"/><line x1="960.2" y1="817.5" x2="962.6" y2="813.5" stroke-width="1.35"/><ellipse cx="972.3" cy="809.3" rx="3.4" ry="4.6" transform="rotate(25 972.3 809.3)" stroke-width="2.84"/><line x1="971.1" y1="811.3" x2="973.5" y2="807.3" stroke-width="1.35"/><ellipse cx="923.2" cy="848.6" rx="3.4" ry="4.6" transform="rotate(25 923.2 848.6)" stroke-width="2.84"/><line x1="922.0" y1="850.6" x2="924.5" y2="846.6" stroke-width="1.35"/><ellipse cx="934.1" cy="842.4" rx="3.4" ry="4.6" transform="rotate(25 934.1 842.4)" stroke-width="2.84"/><line x1="932.9" y1="844.4" x2="935.4" y2="840.4" stroke-width="1.35"/><ellipse cx="945.0" cy="836.3" rx="3.4" ry="4.6" transform="rotate(25 945.0 836.3)" stroke-width="2.84"/><line x1="943.8" y1="838.3" x2="946.2" y2="834.3" stroke-width="1.35"/><ellipse cx="956.0" cy="830.1" rx="3.4" ry="4.6" transform="rotate(25 956.0 830.1)" stroke-width="2.84"/><line x1="954.8" y1="832.1" x2="957.2" y2="828.1" stroke-width="1.35"/><ellipse cx="966.9" cy="824.0" rx="3.4" ry="4.6" transform="rotate(25 966.9 824.0)" stroke-width="2.84"/><line x1="965.6" y1="826.0" x2="968.1" y2="822.0" stroke-width="1.35"/><ellipse cx="917.8" cy="863.2" rx="3.4" ry="4.6" transform="rotate(25 917.8 863.2)" stroke-width="2.84"/><line x1="916.6" y1="865.2" x2="919.0" y2="861.2" stroke-width="1.35"/><ellipse cx="928.7" cy="857.1" rx="3.4" ry="4.6" transform="rotate(25 928.7 857.1)" stroke-width="2.84"/><line x1="927.5" y1="859.1" x2="929.9" y2="855.1" stroke-width="1.35"/><ellipse cx="939.6" cy="850.9" rx="3.4" ry="4.6" transform="rotate(25 939.6 850.9)" stroke-width="2.84"/><line x1="938.4" y1="852.9" x2="940.8" y2="848.9" stroke-width="1.35"/><ellipse cx="950.5" cy="844.8" rx="3.4" ry="4.6" transform="rotate(25 950.5 844.8)" stroke-width="2.84"/><line x1="949.3" y1="846.8" x2="951.7" y2="842.8" stroke-width="1.35"/><ellipse cx="961.4" cy="838.7" rx="3.4" ry="4.6" transform="rotate(25 961.4 838.7)" stroke-width="2.84"/><line x1="960.2" y1="840.7" x2="962.6" y2="836.7" stroke-width="1.35"/><ellipse cx="912.4" cy="877.9" rx="3.4" ry="4.6" transform="rotate(25 912.4 877.9)" stroke-width="2.84"/><line x1="911.1" y1="879.9" x2="913.6" y2="875.9" stroke-width="1.35"/><ellipse cx="923.2" cy="871.8" rx="3.4" ry="4.6" transform="rotate(25 923.2 871.8)" stroke-width="2.84"/><line x1="922.0" y1="873.8" x2="924.5" y2="869.8" stroke-width="1.35"/><ellipse cx="934.1" cy="865.6" rx="3.4" ry="4.6" transform="rotate(25 934.1 865.6)" stroke-width="2.84"/><line x1="932.9" y1="867.6" x2="935.4" y2="863.6" stroke-width="1.35"/><ellipse cx="945.0" cy="859.5" rx="3.4" ry="4.6" transform="rotate(25 945.0 859.5)" stroke-width="2.84"/><line x1="943.8" y1="861.5" x2="946.2" y2="857.5" stroke-width="1.35"/><ellipse cx="956.0" cy="853.3" rx="3.4" ry="4.6" transform="rotate(25 956.0 853.3)" stroke-width="2.84"/><line x1="954.8" y1="855.3" x2="957.2" y2="851.3" stroke-width="1.35"/><ellipse cx="966.9" cy="847.2" rx="3.4" ry="4.6" transform="rotate(25 966.9 847.2)" stroke-width="2.84"/><line x1="965.6" y1="849.2" x2="968.1" y2="845.2" stroke-width="1.35"/><path d="M861.0,755.0 L886.0,743.9 L901.0,765.5 L901.0,823.5 L888.0,830.8 L861.0,838.0 Z" stroke-width="3.24"/><path d="M981.0,719.4 L995.0,679.6 L1019.0,666.0 L1019.0,744.0 L995.0,761.6 L980.0,748.0 Z" stroke-width="3.24"/><path d="M910.0,763.4 L971.0,729.1 L972.0,754.5 L911.0,784.9 Z" stroke-width="3.51"/><path d="M913.0,764.7 L968.0,733.8 L969.0,753.2 L914.0,781.2 Z" stroke-width="1.35"/><ellipse cx="888.4" cy="858.6" rx="15.0" ry="21.5" transform="rotate(20 888.4 858.6)" stroke-width="2.70"/><ellipse cx="892.5" cy="836.0" rx="3.0" ry="2.5" stroke-width="2.16" fill="#fff"/><ellipse cx="993.3" cy="796.3" rx="15.5" ry="22.0" transform="rotate(20 993.3 796.3)" stroke-width="2.70"/><ellipse cx="998.0" cy="774.0" rx="3.0" ry="2.5" stroke-width="2.16" fill="#fff"/><line x1="979.7" y1="792.9" x2="1002.3" y2="805.3" stroke-width="2.43"/><line x1="998.9" y1="781.5" x2="1001.2" y2="804.8" stroke-width="1.76"/><line x1="881.0" y1="901.0" x2="895.0" y2="893.0" stroke-width="3.24"/><line x1="887.0" y1="890.0" x2="889.0" y2="905.0" stroke-width="3.24"/><line x1="985.0" y1="841.5" x2="1001.0" y2="833.0" stroke-width="3.24"/><path transform="translate(1136.0,774.0) scale(1.000)" d="M11,0.5 L2.5,0.5 L1.5,13 C3,11 4.5,10.5 6,10.5 C9.5,10.5 11.5,14 11.5,19 C11.5,25 9,28 6,28 C3,28 1.2,26 0.5,24" stroke-width="1.70"/><path d="M1020.0,749.0 L1121.0,804.0 L1160.0,804.0" stroke-width="1.82"/><path d="M1029.5,860.8 L1040.8,852.1 L1067.2,867.7 L1056.4,875.5 Z" stroke-width="2.29" fill="#fff"/><path d="M1029.5,860.8 L1029.5,878.1 L1056.4,892.9 L1056.4,875.5 Z" stroke-width="2.29" fill="#fff"/><ellipse cx="1040.4" cy="874.2" rx="2.6" ry="3.4" transform="rotate(20 1040.4 874.2)" stroke-width="2.03"/><path d="M1056,876 L1067,867 Q1077,865 1078,872 L1067,898 Q1061,901 1057,893 Z" fill="#2a2a2a" stroke-width="1.4"/><ellipse cx="1085.5" cy="894.7" rx="19" ry="38" transform="rotate(35 1085.5 894.7)" stroke-width="4.6"/><ellipse cx="1087.3" cy="895.7" rx="19" ry="38" transform="rotate(35 1087.3 895.7)" stroke-width="4.6"/><ellipse cx="1089.2" cy="896.7" rx="19" ry="38" transform="rotate(35 1089.2 896.7)" stroke-width="4.6"/><ellipse cx="1091.0" cy="897.7" rx="19" ry="38" transform="rotate(35 1091.0 897.7)" stroke-width="4.6"/><ellipse cx="1092.8" cy="898.7" rx="19" ry="38" transform="rotate(35 1092.8 898.7)" stroke-width="4.6"/><ellipse cx="1094.7" cy="899.7" rx="19" ry="38" transform="rotate(35 1094.7 899.7)" stroke-width="4.6"/><ellipse cx="1096.5" cy="900.7" rx="19" ry="38" transform="rotate(35 1096.5 900.7)" stroke-width="4.6"/><ellipse cx="1098.3" cy="901.7" rx="19" ry="38" transform="rotate(35 1098.3 901.7)" stroke-width="4.6"/><ellipse cx="1100.2" cy="902.7" rx="19" ry="38" transform="rotate(35 1100.2 902.7)" stroke-width="4.6"/><ellipse cx="1102.0" cy="903.7" rx="19" ry="38" transform="rotate(35 1102.0 903.7)" stroke-width="4.6"/><ellipse cx="1103.8" cy="904.7" rx="19" ry="38" transform="rotate(35 1103.8 904.7)" stroke-width="4.6"/><ellipse cx="1105.7" cy="905.7" rx="19" ry="38" transform="rotate(35 1105.7 905.7)" stroke-width="4.6"/><ellipse cx="1107.5" cy="906.7" rx="19" ry="38" transform="rotate(35 1107.5 906.7)" stroke-width="4.6"/><ellipse cx="1085.5" cy="894.7" rx="19" ry="38" transform="rotate(35 1085.5 894.7)" fill="#fff" stroke="none"/><ellipse cx="1087.3" cy="895.7" rx="19" ry="38" transform="rotate(35 1087.3 895.7)" fill="#fff" stroke="none"/><ellipse cx="1089.2" cy="896.7" rx="19" ry="38" transform="rotate(35 1089.2 896.7)" fill="#fff" stroke="none"/><ellipse cx="1091.0" cy="897.7" rx="19" ry="38" transform="rotate(35 1091.0 897.7)" fill="#fff" stroke="none"/><ellipse cx="1092.8" cy="898.7" rx="19" ry="38" transform="rotate(35 1092.8 898.7)" fill="#fff" stroke="none"/><ellipse cx="1094.7" cy="899.7" rx="19" ry="38" transform="rotate(35 1094.7 899.7)" fill="#fff" stroke="none"/><ellipse cx="1096.5" cy="900.7" rx="19" ry="38" transform="rotate(35 1096.5 900.7)" fill="#fff" stroke="none"/><ellipse cx="1098.3" cy="901.7" rx="19" ry="38" transform="rotate(35 1098.3 901.7)" fill="#fff" stroke="none"/><ellipse cx="1100.2" cy="902.7" rx="19" ry="38" transform="rotate(35 1100.2 902.7)" fill="#fff" stroke="none"/><ellipse cx="1102.0" cy="903.7" rx="19" ry="38" transform="rotate(35 1102.0 903.7)" fill="#fff" stroke="none"/><ellipse cx="1103.8" cy="904.7" rx="19" ry="38" transform="rotate(35 1103.8 904.7)" fill="#fff" stroke="none"/><ellipse cx="1105.7" cy="905.7" rx="19" ry="38" transform="rotate(35 1105.7 905.7)" fill="#fff" stroke="none"/><ellipse cx="1107.5" cy="906.7" rx="19" ry="38" transform="rotate(35 1107.5 906.7)" fill="#fff" stroke="none"/><ellipse cx="1107.5" cy="906.7" rx="19.0" ry="38.0" transform="rotate(35 1107.5 906.7)" stroke-width="3.51"/><ellipse cx="1107.5" cy="906.7" rx="16.5" ry="34.0" transform="rotate(35 1107.5 906.7)" stroke-width="1.89"/><ellipse cx="1104.5" cy="904.7" rx="12.5" ry="25.0" transform="rotate(35 1104.5 904.7)" stroke-width="2.16"/><ellipse cx="1102.5" cy="902.7" rx="8.0" ry="15.0" transform="rotate(35 1102.5 902.7)" stroke-width="2.97"/><ellipse cx="1100.5" cy="902.7" rx="5.0" ry="9.0" transform="rotate(35 1100.5 902.7)" stroke-width="2.16"/><path d="M917.5,934.8 L928.8,926.1 L955.2,941.7 L944.4,949.5 Z" stroke-width="2.29" fill="#fff"/><path d="M917.5,934.8 L917.5,952.1 L944.4,966.9 L944.4,949.5 Z" stroke-width="2.29" fill="#fff"/><ellipse cx="928.4" cy="948.2" rx="2.6" ry="3.4" transform="rotate(20 928.4 948.2)" stroke-width="2.03"/><path d="M944,950 L955,941 Q965,939 966,946 L955,972 Q949,975 945,967 Z" fill="#2a2a2a" stroke-width="1.4"/><ellipse cx="973.5" cy="968.7" rx="19" ry="38" transform="rotate(35 973.5 968.7)" stroke-width="4.6"/><ellipse cx="975.3" cy="969.7" rx="19" ry="38" transform="rotate(35 975.3 969.7)" stroke-width="4.6"/><ellipse cx="977.2" cy="970.7" rx="19" ry="38" transform="rotate(35 977.2 970.7)" stroke-width="4.6"/><ellipse cx="979.0" cy="971.7" rx="19" ry="38" transform="rotate(35 979.0 971.7)" stroke-width="4.6"/><ellipse cx="980.8" cy="972.7" rx="19" ry="38" transform="rotate(35 980.8 972.7)" stroke-width="4.6"/><ellipse cx="982.7" cy="973.7" rx="19" ry="38" transform="rotate(35 982.7 973.7)" stroke-width="4.6"/><ellipse cx="984.5" cy="974.7" rx="19" ry="38" transform="rotate(35 984.5 974.7)" stroke-width="4.6"/><ellipse cx="986.3" cy="975.7" rx="19" ry="38" transform="rotate(35 986.3 975.7)" stroke-width="4.6"/><ellipse cx="988.2" cy="976.7" rx="19" ry="38" transform="rotate(35 988.2 976.7)" stroke-width="4.6"/><ellipse cx="990.0" cy="977.7" rx="19" ry="38" transform="rotate(35 990.0 977.7)" stroke-width="4.6"/><ellipse cx="991.8" cy="978.7" rx="19" ry="38" transform="rotate(35 991.8 978.7)" stroke-width="4.6"/><ellipse cx="993.7" cy="979.7" rx="19" ry="38" transform="rotate(35 993.7 979.7)" stroke-width="4.6"/><ellipse cx="995.5" cy="980.7" rx="19" ry="38" transform="rotate(35 995.5 980.7)" stroke-width="4.6"/><ellipse cx="973.5" cy="968.7" rx="19" ry="38" transform="rotate(35 973.5 968.7)" fill="#fff" stroke="none"/><ellipse cx="975.3" cy="969.7" rx="19" ry="38" transform="rotate(35 975.3 969.7)" fill="#fff" stroke="none"/><ellipse cx="977.2" cy="970.7" rx="19" ry="38" transform="rotate(35 977.2 970.7)" fill="#fff" stroke="none"/><ellipse cx="979.0" cy="971.7" rx="19" ry="38" transform="rotate(35 979.0 971.7)" fill="#fff" stroke="none"/><ellipse cx="980.8" cy="972.7" rx="19" ry="38" transform="rotate(35 980.8 972.7)" fill="#fff" stroke="none"/><ellipse cx="982.7" cy="973.7" rx="19" ry="38" transform="rotate(35 982.7 973.7)" fill="#fff" stroke="none"/><ellipse cx="984.5" cy="974.7" rx="19" ry="38" transform="rotate(35 984.5 974.7)" fill="#fff" stroke="none"/><ellipse cx="986.3" cy="975.7" rx="19" ry="38" transform="rotate(35 986.3 975.7)" fill="#fff" stroke="none"/><ellipse cx="988.2" cy="976.7" rx="19" ry="38" transform="rotate(35 988.2 976.7)" fill="#fff" stroke="none"/><ellipse cx="990.0" cy="977.7" rx="19" ry="38" transform="rotate(35 990.0 977.7)" fill="#fff" stroke="none"/><ellipse cx="991.8" cy="978.7" rx="19" ry="38" transform="rotate(35 991.8 978.7)" fill="#fff" stroke="none"/><ellipse cx="993.7" cy="979.7" rx="19" ry="38" transform="rotate(35 993.7 979.7)" fill="#fff" stroke="none"/><ellipse cx="995.5" cy="980.7" rx="19" ry="38" transform="rotate(35 995.5 980.7)" fill="#fff" stroke="none"/><ellipse cx="995.5" cy="980.7" rx="19.0" ry="38.0" transform="rotate(35 995.5 980.7)" stroke-width="3.51"/><ellipse cx="995.5" cy="980.7" rx="16.5" ry="34.0" transform="rotate(35 995.5 980.7)" stroke-width="1.89"/><ellipse cx="992.5" cy="978.7" rx="12.5" ry="25.0" transform="rotate(35 992.5 978.7)" stroke-width="2.16"/><ellipse cx="990.5" cy="976.7" rx="8.0" ry="15.0" transform="rotate(35 990.5 976.7)" stroke-width="2.97"/><ellipse cx="988.5" cy="976.7" rx="5.0" ry="9.0" transform="rotate(35 988.5 976.7)" stroke-width="2.16"/><path transform="translate(1156.0,922.0) scale(1.000)" d="M10.5,3 C9.5,1 8,0 6,0 C2.5,0 1,6 1,15 C1,24 3,28 6,28 C9,28 11.5,25 11.5,20 C11.5,15 9,12 6.2,12 C3,12 1,15 1,19" stroke-width="1.70"/><path d="M1112.0,934.0 L1142.0,951.0 L1180.0,951.0" stroke-width="1.82"/><path d="M532.0,736.0 L533.0,496.0 L533.0,488.0 L555.0,462.0 L555.0,495.0 L580.0,483.0 L580.0,448.0 L675.0,393.0 L691.0,402.0 L691.0,412.0 L708.0,422.0 L708.0,635.0 L690.0,645.0" stroke-width="2.70"/><path d="M533.0,503.0 L552.0,514.0 L578.0,501.0 L578.0,552.0 L552.0,566.0" stroke-width="2.29"/><line x1="552.0" y1="514.0" x2="552.0" y2="725.0" stroke-width="3.24"/><line x1="690.0" y1="412.0" x2="690.0" y2="645.0" stroke-width="2.29"/><line x1="552.0" y1="725.0" x2="690.0" y2="645.0" stroke-width="1.76"/><line x1="532.0" y1="736.0" x2="552.0" y2="725.0" stroke-width="3.51"/><line x1="692.0" y1="645.0" x2="838.0" y2="734.0" stroke-width="2.16"/><line x1="708.0" y1="635.0" x2="833.0" y2="707.0" stroke-width="3.24"/><line x1="833.0" y1="707.0" x2="836.0" y2="713.0" stroke-width="2.16"/><line x1="532.0" y1="736.0" x2="860.0" y2="926.0" stroke-width="2.16"/><line x1="552.0" y1="725.0" x2="841.0" y2="892.0" stroke-width="3.24"/><line x1="841.0" y1="892.0" x2="860.0" y2="926.0" stroke-width="2.16"/><line x1="841.0" y1="838.0" x2="841.0" y2="892.0" stroke-width="2.16"/><ellipse cx="659.6" cy="526.0" rx="2.6" ry="4.0" transform="rotate(20 659.6 526.0)" stroke-width="2.16"/><ellipse cx="564.5" cy="581.0" rx="2.6" ry="4.0" transform="rotate(20 564.5 581.0)" stroke-width="2.16"/><ellipse cx="659.6" cy="635.0" rx="2.6" ry="4.0" transform="rotate(20 659.6 635.0)" stroke-width="2.16"/><ellipse cx="564.5" cy="691.0" rx="2.6" ry="4.0" transform="rotate(20 564.5 691.0)" stroke-width="2.16"/><ellipse cx="541.0" cy="611.0" rx="2.6" ry="4.0" transform="rotate(20 541.0 611.0)" stroke-width="2.16"/><ellipse cx="698.0" cy="520.0" rx="2.6" ry="4.0" transform="rotate(20 698.0 520.0)" stroke-width="2.16"/><ellipse cx="655.0" cy="782.0" rx="3.0" ry="2.2" transform="rotate(20 655.0 782.0)" stroke-width="2.03"/><ellipse cx="696.0" cy="820.5" rx="3.0" ry="2.2" transform="rotate(20 696.0 820.5)" stroke-width="2.03"/><ellipse cx="770.0" cy="846.6" rx="3.0" ry="2.2" transform="rotate(20 770.0 846.6)" stroke-width="2.03"/><circle r="1" transform="matrix(52,-29.9,0,60,612,608)" stroke-width="0.03"/><path transform="translate(462.0,439.0) scale(1.000)" d="M2,6 L7,0 L7,28" stroke-width="1.70"/><path transform="translate(476.5,439.0) scale(1.000)" d="M6,13 C3,13 1.5,10.5 1.5,6.5 C1.5,2.5 3.5,0 6,0 C8.5,0 10.5,2.5 10.5,6.5 C10.5,10.5 9,13 6,13 C2.5,13 0.5,16 0.5,20.5 C0.5,25 3,28 6,28 C9,28 11.5,25 11.5,20.5 C11.5,16 9.5,13 6,13 Z" stroke-width="1.70"/><path d="M459.0,466.0 L497.0,466.0 L544.0,491.0" stroke-width="1.82"/><path d="M595.0,380.0 L606.0,387.0 L609.5,397.0 L603.0,402.0 L609.0,407.0 L606.0,413.0 L596.0,418.0" stroke-width="2.70"/><path d="M563.0,406.0 L581.0,416.0 L592.0,410.0 L596.0,418.0 L588.0,424.0 L578.0,426.0 L563.0,417.0 Z" stroke-width="2.70" fill="#fff"/><path d="M562.6,393.3 L576.6,386.0 L589.0,399.2 L579.5,405.0 Z" stroke-width="2.70" fill="#fff"/><ellipse cx="578.8" cy="398.5" rx="1.6" ry="1.3" stroke-width="2.70" fill="#222"/><line x1="575.0" y1="388.0" x2="575.0" y2="365.0" stroke-width="1.89"/><line x1="593.5" y1="354.0" x2="594.0" y2="408.0" stroke-width="2.97"/><path d="M529.0,353.0 L529.0,410.0 L560.5,421.0 L560.5,373.0 Z" stroke-width="2.70" fill="#fff"/><line x1="527.5" y1="352.0" x2="527.5" y2="411.0" stroke-width="4.32"/><line x1="543.0" y1="414.0" x2="557.0" y2="420.0" stroke-width="2.03"/><path d="M529.0,353.0 L565.6,331.0 L593.4,353.7 L560.5,372.8 Z" stroke-width="2.70" fill="#fff"/><line x1="532.0" y1="351.0" x2="567.0" y2="332.0" stroke-width="4.05"/><line x1="548.0" y1="348.0" x2="578.0" y2="364.0" stroke-width="3.78"/><path d="M541.0,356.0 L547.0,353.0 L557.0,361.0 L551.0,365.0 Z" stroke-width="2.43"/><path d="M569.0,339.0 L574.0,336.0 L582.0,345.0 L577.0,349.0 Z" stroke-width="2.43"/><line x1="561.0" y1="376.0" x2="575.0" y2="368.0" stroke-width="4.86"/><line x1="576.0" y1="366.0" x2="593.0" y2="357.0" stroke-width="4.86"/><line x1="561.0" y1="393.0" x2="575.0" y2="386.0" stroke-width="2.16"/><path transform="translate(480.0,302.0) scale(1.000)" d="M2,6 L7,0 L7,28" stroke-width="1.70"/><path transform="translate(494.5,302.0) scale(1.000)" d="M11,12 C10,15 8,16.5 6,16.5 C3,16.5 1,13.5 1,8.5 C1,3 3.5,0 6,0 C9,0 11,3 11,11 C11,22 9,28 6,28 C3.5,28 2,26.5 1.2,25" stroke-width="1.70"/><path d="M475.0,330.0 L512.0,330.0 L540.0,344.0" stroke-width="1.82"/><circle r="1.080" transform="matrix(53,-31.5,0,59.5,335.5,552)" stroke-width="0.044"/><circle r="0.992" transform="matrix(53,-31.5,0,59.5,335.5,552)" stroke-width="0.044"/><circle r="0.904" transform="matrix(53,-31.5,0,59.5,335.5,552)" stroke-width="0.044"/><circle r="0.816" transform="matrix(53,-31.5,0,59.5,335.5,552)" stroke-width="0.044"/><circle r="0.728" transform="matrix(53,-31.5,0,59.5,335.5,552)" stroke-width="0.044"/><circle r="0.640" transform="matrix(53,-31.5,0,59.5,335.5,552)" stroke-width="0.044"/><circle r="0.552" transform="matrix(53,-31.5,0,59.5,335.5,552)" stroke-width="0.044"/><circle r="0.464" transform="matrix(53,-31.5,0,59.5,335.5,552)" stroke-width="0.044"/><circle r="0.376" transform="matrix(53,-31.5,0,59.5,335.5,552)" stroke-width="0.044"/><circle r="0.288" transform="matrix(53,-31.5,0,59.5,335.5,552)" stroke-width="0.044"/><circle r="0.200" transform="matrix(53,-31.5,0,59.5,335.5,552)" stroke-width="0.044"/><circle r="0.112" transform="matrix(53,-31.5,0,59.5,335.5,552)" stroke-width="0.044"/><circle r="1.040" transform="matrix(53,-31.5,0,59.5,340,549)" stroke-width="0.018"/><circle r="0.952" transform="matrix(53,-31.5,0,59.5,340,549)" stroke-width="0.018"/><circle r="0.864" transform="matrix(53,-31.5,0,59.5,340,549)" stroke-width="0.018"/><circle r="0.776" transform="matrix(53,-31.5,0,59.5,340,549)" stroke-width="0.018"/><circle r="0.688" transform="matrix(53,-31.5,0,59.5,340,549)" stroke-width="0.018"/><circle r="0.600" transform="matrix(53,-31.5,0,59.5,340,549)" stroke-width="0.018"/><circle r="0.512" transform="matrix(53,-31.5,0,59.5,340,549)" stroke-width="0.018"/><circle r="0.424" transform="matrix(53,-31.5,0,59.5,340,549)" stroke-width="0.018"/><circle r="0.336" transform="matrix(53,-31.5,0,59.5,340,549)" stroke-width="0.018"/><circle r="0.248" transform="matrix(53,-31.5,0,59.5,340,549)" stroke-width="0.018"/><circle r="0.160" transform="matrix(53,-31.5,0,59.5,340,549)" stroke-width="0.018"/><line x1="285.0" y1="523.0" x2="388.0" y2="581.0" stroke-width="3.51"/><line x1="287.0" y1="528.0" x2="386.0" y2="585.0" stroke-width="1.35"/><path d="M389,461 Q340,545 285,643" stroke-width="2.0"/><ellipse cx="389.5" cy="461.5" rx="4.0" ry="5.0" transform="rotate(25 389.5 461.5)" stroke-width="2.97" fill="#fff"/><ellipse cx="389.5" cy="461.5" rx="1.5" ry="2.0" transform="rotate(25 389.5 461.5)" stroke-width="1.89"/><ellipse cx="285.0" cy="523.0" rx="4.0" ry="5.0" transform="rotate(25 285.0 523.0)" stroke-width="2.97" fill="#fff"/><ellipse cx="285.0" cy="523.0" rx="1.5" ry="2.0" transform="rotate(25 285.0 523.0)" stroke-width="1.89"/><ellipse cx="388.0" cy="581.0" rx="4.0" ry="5.0" transform="rotate(25 388.0 581.0)" stroke-width="2.97" fill="#fff"/><ellipse cx="388.0" cy="581.0" rx="1.5" ry="2.0" transform="rotate(25 388.0 581.0)" stroke-width="1.89"/><ellipse cx="285.0" cy="643.0" rx="4.0" ry="5.0" transform="rotate(25 285.0 643.0)" stroke-width="2.97" fill="#fff"/><ellipse cx="285.0" cy="643.0" rx="1.5" ry="2.0" transform="rotate(25 285.0 643.0)" stroke-width="1.89"/><path transform="translate(213.0,494.0) scale(1.000)" d="M2,6 L7,0 L7,28" stroke-width="1.70"/><path transform="translate(227.5,494.0) scale(1.000)" d="M0.5,0.5 L12,0.5 C8,8 5,18 4,28" stroke-width="1.70"/><path d="M208.0,523.0 L244.0,523.0 L284.0,543.0" stroke-width="1.82"/><path d="M369.8,736.2 L368.4,618.6 L474.8,561.2 L477.0,690.0 L390.0,742.0 Z" stroke-width="0.01" fill="#fff" stroke="none"/><path d="M396.0,742.0 L369.8,736.2 L368.4,618.6 L474.8,561.2 L477.0,582.0" stroke-width="2.43"/><path d="M372.5,732.0 L371.5,622.0 L471.0,567.0" stroke-width="1.35"/><path d="M374,690 Q378,625 432,590" stroke-width="1.3"/><line x1="407.6" y1="596.2" x2="432.8" y2="613.0" stroke-width="2.03"/><line x1="438.4" y1="579.4" x2="463.6" y2="596.2" stroke-width="2.03"/><line x1="371.0" y1="665.0" x2="396.0" y2="683.0" stroke-width="2.03"/><line x1="371.0" y1="697.0" x2="396.0" y2="713.0" stroke-width="2.03"/><path d="M376,711 Q385,740 396,744" stroke-width="1.2"/><ellipse cx="373.0" cy="624.0" rx="2.2" ry="2.8" transform="rotate(20 373.0 624.0)" stroke-width="2.16"/><ellipse cx="470.0" cy="567.0" rx="2.2" ry="2.8" transform="rotate(20 470.0 567.0)" stroke-width="2.16"/><ellipse cx="374.0" cy="730.0" rx="2.2" ry="2.8" transform="rotate(20 374.0 730.0)" stroke-width="2.16"/><path d="M395.0,636.8 L500.0,577.3 L502.8,691.4 L396.4,750.2 Z" stroke-width="2.70" fill="#fff"/><path d="M398.0,639.0 L497.0,582.0" stroke-width="1.35"/><circle r="0.99" transform="matrix(52.5,-29.75,0.7,56.7,448.5,663.9)" stroke-width="0.034"/><line x1="413.2" y1="643.8" x2="433.0" y2="655.0" stroke-width="1.76"/><line x1="416.2" y1="640.8" x2="436.0" y2="652.0" stroke-width="1.76"/><line x1="466.4" y1="631.2" x2="484.6" y2="603.2" stroke-width="1.76"/><line x1="469.4" y1="628.2" x2="487.6" y2="600.2" stroke-width="1.76"/><line x1="467.8" y1="676.0" x2="486.0" y2="685.8" stroke-width="1.76"/><line x1="470.8" y1="673.0" x2="489.0" y2="682.8" stroke-width="1.76"/><line x1="425.8" y1="701.2" x2="413.2" y2="727.8" stroke-width="1.76"/><line x1="428.8" y1="698.2" x2="416.2" y2="724.8" stroke-width="1.76"/><circle r="1" transform="matrix(25,-14,0,34,445,663)" stroke-width="0.07" fill="#fff"/><circle r="1" transform="matrix(25,-14,0,34,451,665)" stroke-width="0.07" fill="#fff"/><path d="M455.0,620.0 L472.0,600.0 L468.0,622.0" stroke-width="2.16"/><path d="M404.0,680.0 L410.0,689.0 L404.0,693.0" stroke-width="1.76"/><ellipse cx="400.0" cy="642.0" rx="2.2" ry="2.8" transform="rotate(20 400.0 642.0)" stroke-width="2.16"/><ellipse cx="496.0" cy="584.0" rx="2.2" ry="2.8" transform="rotate(20 496.0 584.0)" stroke-width="2.16"/><ellipse cx="498.0" cy="684.0" rx="2.2" ry="2.8" transform="rotate(20 498.0 684.0)" stroke-width="2.16"/><ellipse cx="401.0" cy="744.0" rx="2.2" ry="2.8" transform="rotate(20 401.0 744.0)" stroke-width="2.16"/><path transform="translate(312.0,677.0) scale(1.000)" d="M2,6 L7,0 L7,28" stroke-width="1.70"/><path transform="translate(326.5,677.0) scale(1.000)" d="M10.5,3 C9.5,1 8,0 6,0 C2.5,0 1,6 1,15 C1,24 3,28 6,28 C9,28 11.5,25 11.5,20 C11.5,15 9,12 6.2,12 C3,12 1,15 1,19" stroke-width="1.70"/><path d="M306.0,705.0 L341.0,705.0 L371.0,719.0" stroke-width="1.82"/><path d="M544.0,781.0 L795.0,923.0 L797.0,1155.0 L543.0,1014.0 Z" stroke-width="2.43"/><line x1="547.0" y1="777.0" x2="799.0" y2="920.0" stroke-width="1.89"/><line x1="545.0" y1="779.0" x2="797.0" y2="921.5" stroke-width="2.97" stroke-dasharray="1.3,1.7"/><line x1="800.0" y1="921.0" x2="801.0" y2="1154.0" stroke-width="2.43"/><line x1="798.0" y1="1155.0" x2="801.0" y2="1154.0" stroke-width="1.89"/><ellipse cx="551.0" cy="792.0" rx="3.2" ry="4.0" transform="rotate(20 551.0 792.0)" stroke-width="2.16"/><ellipse cx="551.0" cy="792.0" rx="1.4" ry="1.8" transform="rotate(20 551.0 792.0)" stroke-width="1.35"/><ellipse cx="788.0" cy="929.0" rx="3.2" ry="4.0" transform="rotate(20 788.0 929.0)" stroke-width="2.16"/><ellipse cx="788.0" cy="929.0" rx="1.4" ry="1.8" transform="rotate(20 788.0 929.0)" stroke-width="1.35"/><ellipse cx="551.0" cy="1007.0" rx="3.2" ry="4.0" transform="rotate(20 551.0 1007.0)" stroke-width="2.16"/><ellipse cx="551.0" cy="1007.0" rx="1.4" ry="1.8" transform="rotate(20 551.0 1007.0)" stroke-width="1.35"/><ellipse cx="788.0" cy="1143.0" rx="3.2" ry="4.0" transform="rotate(20 788.0 1143.0)" stroke-width="2.16"/><ellipse cx="788.0" cy="1143.0" rx="1.4" ry="1.8" transform="rotate(20 788.0 1143.0)" stroke-width="1.35"/><path transform="translate(483.0,738.0) scale(1.000)" d="M2,6 L7,0 L7,28" stroke-width="1.70"/><path transform="translate(497.5,738.0) scale(1.000)" d="M11,0.5 L2.5,0.5 L1.5,13 C3,11 4.5,10.5 6,10.5 C9.5,10.5 11.5,14 11.5,19 C11.5,25 9,28 6,28 C3,28 1.2,26 0.5,24" stroke-width="1.70"/><path d="M479.0,766.5 L516.5,766.5 L543.0,779.0" stroke-width="1.82"/><ellipse cx="501.0" cy="896.0" rx="12.3" ry="19.5" transform="rotate(32 501.0 896.0)" stroke-width="4.369999999999999"/><ellipse cx="505.8" cy="893.2" rx="12.3" ry="19.5" transform="rotate(32 505.8 893.2)" stroke-width="4.369999999999999"/><ellipse cx="510.6" cy="890.3" rx="12.3" ry="19.5" transform="rotate(32 510.6 890.3)" stroke-width="4.369999999999999"/><ellipse cx="515.4" cy="887.5" rx="12.3" ry="19.5" transform="rotate(32 515.4 887.5)" stroke-width="4.369999999999999"/><ellipse cx="520.1" cy="884.7" rx="12.3" ry="19.5" transform="rotate(32 520.1 884.7)" stroke-width="4.369999999999999"/><ellipse cx="524.9" cy="881.8" rx="12.3" ry="19.5" transform="rotate(32 524.9 881.8)" stroke-width="4.369999999999999"/><ellipse cx="529.7" cy="879.0" rx="12.3" ry="19.5" transform="rotate(32 529.7 879.0)" stroke-width="4.369999999999999"/><ellipse cx="534.5" cy="876.2" rx="12.3" ry="19.5" transform="rotate(32 534.5 876.2)" stroke-width="4.369999999999999"/><ellipse cx="539.3" cy="873.3" rx="12.3" ry="19.5" transform="rotate(32 539.3 873.3)" stroke-width="4.369999999999999"/><ellipse cx="544.0" cy="870.5" rx="12.3" ry="19.5" transform="rotate(32 544.0 870.5)" stroke-width="4.369999999999999"/><ellipse cx="548.8" cy="867.7" rx="12.3" ry="19.5" transform="rotate(32 548.8 867.7)" stroke-width="4.369999999999999"/><ellipse cx="553.6" cy="864.8" rx="12.3" ry="19.5" transform="rotate(32 553.6 864.8)" stroke-width="4.369999999999999"/><ellipse cx="558.4" cy="862.0" rx="12.3" ry="19.5" transform="rotate(32 558.4 862.0)" stroke-width="4.369999999999999"/><ellipse cx="501.0" cy="896.0" rx="12.3" ry="19.5" transform="rotate(32 501.0 896.0)" fill="#fff" stroke="none"/><ellipse cx="505.8" cy="893.2" rx="12.3" ry="19.5" transform="rotate(32 505.8 893.2)" fill="#fff" stroke="none"/><ellipse cx="510.6" cy="890.3" rx="12.3" ry="19.5" transform="rotate(32 510.6 890.3)" fill="#fff" stroke="none"/><ellipse cx="515.4" cy="887.5" rx="12.3" ry="19.5" transform="rotate(32 515.4 887.5)" fill="#fff" stroke="none"/><ellipse cx="520.1" cy="884.7" rx="12.3" ry="19.5" transform="rotate(32 520.1 884.7)" fill="#fff" stroke="none"/><ellipse cx="524.9" cy="881.8" rx="12.3" ry="19.5" transform="rotate(32 524.9 881.8)" fill="#fff" stroke="none"/><ellipse cx="529.7" cy="879.0" rx="12.3" ry="19.5" transform="rotate(32 529.7 879.0)" fill="#fff" stroke="none"/><ellipse cx="534.5" cy="876.2" rx="12.3" ry="19.5" transform="rotate(32 534.5 876.2)" fill="#fff" stroke="none"/><ellipse cx="539.3" cy="873.3" rx="12.3" ry="19.5" transform="rotate(32 539.3 873.3)" fill="#fff" stroke="none"/><ellipse cx="544.0" cy="870.5" rx="12.3" ry="19.5" transform="rotate(32 544.0 870.5)" fill="#fff" stroke="none"/><ellipse cx="548.8" cy="867.7" rx="12.3" ry="19.5" transform="rotate(32 548.8 867.7)" fill="#fff" stroke="none"/><ellipse cx="553.6" cy="864.8" rx="12.3" ry="19.5" transform="rotate(32 553.6 864.8)" fill="#fff" stroke="none"/><ellipse cx="558.4" cy="862.0" rx="12.3" ry="19.5" transform="rotate(32 558.4 862.0)" fill="#fff" stroke="none"/><ellipse cx="501.0" cy="896.0" rx="12.3" ry="19.5" transform="rotate(32 501.0 896.0)" stroke-width="2.70" fill="#fff"/><ellipse cx="502.5" cy="897.0" rx="9.8" ry="16.5" transform="rotate(32 502.5 897.0)" stroke-width="2.16"/><ellipse cx="501.0" cy="861.0" rx="12.3" ry="19.5" transform="rotate(32 501.0 861.0)" stroke-width="4.369999999999999"/><ellipse cx="505.8" cy="858.2" rx="12.3" ry="19.5" transform="rotate(32 505.8 858.2)" stroke-width="4.369999999999999"/><ellipse cx="510.6" cy="855.3" rx="12.3" ry="19.5" transform="rotate(32 510.6 855.3)" stroke-width="4.369999999999999"/><ellipse cx="515.4" cy="852.5" rx="12.3" ry="19.5" transform="rotate(32 515.4 852.5)" stroke-width="4.369999999999999"/><ellipse cx="520.1" cy="849.7" rx="12.3" ry="19.5" transform="rotate(32 520.1 849.7)" stroke-width="4.369999999999999"/><ellipse cx="524.9" cy="846.8" rx="12.3" ry="19.5" transform="rotate(32 524.9 846.8)" stroke-width="4.369999999999999"/><ellipse cx="529.7" cy="844.0" rx="12.3" ry="19.5" transform="rotate(32 529.7 844.0)" stroke-width="4.369999999999999"/><ellipse cx="534.5" cy="841.2" rx="12.3" ry="19.5" transform="rotate(32 534.5 841.2)" stroke-width="4.369999999999999"/><ellipse cx="539.3" cy="838.3" rx="12.3" ry="19.5" transform="rotate(32 539.3 838.3)" stroke-width="4.369999999999999"/><ellipse cx="544.0" cy="835.5" rx="12.3" ry="19.5" transform="rotate(32 544.0 835.5)" stroke-width="4.369999999999999"/><ellipse cx="548.8" cy="832.7" rx="12.3" ry="19.5" transform="rotate(32 548.8 832.7)" stroke-width="4.369999999999999"/><ellipse cx="553.6" cy="829.8" rx="12.3" ry="19.5" transform="rotate(32 553.6 829.8)" stroke-width="4.369999999999999"/><ellipse cx="558.4" cy="827.0" rx="12.3" ry="19.5" transform="rotate(32 558.4 827.0)" stroke-width="4.369999999999999"/><ellipse cx="501.0" cy="861.0" rx="12.3" ry="19.5" transform="rotate(32 501.0 861.0)" fill="#fff" stroke="none"/><ellipse cx="505.8" cy="858.2" rx="12.3" ry="19.5" transform="rotate(32 505.8 858.2)" fill="#fff" stroke="none"/><ellipse cx="510.6" cy="855.3" rx="12.3" ry="19.5" transform="rotate(32 510.6 855.3)" fill="#fff" stroke="none"/><ellipse cx="515.4" cy="852.5" rx="12.3" ry="19.5" transform="rotate(32 515.4 852.5)" fill="#fff" stroke="none"/><ellipse cx="520.1" cy="849.7" rx="12.3" ry="19.5" transform="rotate(32 520.1 849.7)" fill="#fff" stroke="none"/><ellipse cx="524.9" cy="846.8" rx="12.3" ry="19.5" transform="rotate(32 524.9 846.8)" fill="#fff" stroke="none"/><ellipse cx="529.7" cy="844.0" rx="12.3" ry="19.5" transform="rotate(32 529.7 844.0)" fill="#fff" stroke="none"/><ellipse cx="534.5" cy="841.2" rx="12.3" ry="19.5" transform="rotate(32 534.5 841.2)" fill="#fff" stroke="none"/><ellipse cx="539.3" cy="838.3" rx="12.3" ry="19.5" transform="rotate(32 539.3 838.3)" fill="#fff" stroke="none"/><ellipse cx="544.0" cy="835.5" rx="12.3" ry="19.5" transform="rotate(32 544.0 835.5)" fill="#fff" stroke="none"/><ellipse cx="548.8" cy="832.7" rx="12.3" ry="19.5" transform="rotate(32 548.8 832.7)" fill="#fff" stroke="none"/><ellipse cx="553.6" cy="829.8" rx="12.3" ry="19.5" transform="rotate(32 553.6 829.8)" fill="#fff" stroke="none"/><ellipse cx="558.4" cy="827.0" rx="12.3" ry="19.5" transform="rotate(32 558.4 827.0)" fill="#fff" stroke="none"/><ellipse cx="501.0" cy="861.0" rx="12.3" ry="19.5" transform="rotate(32 501.0 861.0)" stroke-width="2.70" fill="#fff"/><ellipse cx="502.5" cy="862.0" rx="9.8" ry="16.5" transform="rotate(32 502.5 862.0)" stroke-width="2.16"/><ellipse cx="533.4" cy="912.7" rx="12.3" ry="19.5" transform="rotate(32 533.4 912.7)" stroke-width="4.369999999999999"/><ellipse cx="538.2" cy="909.9" rx="12.3" ry="19.5" transform="rotate(32 538.2 909.9)" stroke-width="4.369999999999999"/><ellipse cx="543.0" cy="907.0" rx="12.3" ry="19.5" transform="rotate(32 543.0 907.0)" stroke-width="4.369999999999999"/><ellipse cx="547.8" cy="904.2" rx="12.3" ry="19.5" transform="rotate(32 547.8 904.2)" stroke-width="4.369999999999999"/><ellipse cx="552.5" cy="901.4" rx="12.3" ry="19.5" transform="rotate(32 552.5 901.4)" stroke-width="4.369999999999999"/><ellipse cx="557.3" cy="898.5" rx="12.3" ry="19.5" transform="rotate(32 557.3 898.5)" stroke-width="4.369999999999999"/><ellipse cx="562.1" cy="895.7" rx="12.3" ry="19.5" transform="rotate(32 562.1 895.7)" stroke-width="4.369999999999999"/><ellipse cx="566.9" cy="892.9" rx="12.3" ry="19.5" transform="rotate(32 566.9 892.9)" stroke-width="4.369999999999999"/><ellipse cx="571.7" cy="890.0" rx="12.3" ry="19.5" transform="rotate(32 571.7 890.0)" stroke-width="4.369999999999999"/><ellipse cx="576.4" cy="887.2" rx="12.3" ry="19.5" transform="rotate(32 576.4 887.2)" stroke-width="4.369999999999999"/><ellipse cx="581.2" cy="884.4" rx="12.3" ry="19.5" transform="rotate(32 581.2 884.4)" stroke-width="4.369999999999999"/><ellipse cx="586.0" cy="881.5" rx="12.3" ry="19.5" transform="rotate(32 586.0 881.5)" stroke-width="4.369999999999999"/><ellipse cx="590.8" cy="878.7" rx="12.3" ry="19.5" transform="rotate(32 590.8 878.7)" stroke-width="4.369999999999999"/><ellipse cx="533.4" cy="912.7" rx="12.3" ry="19.5" transform="rotate(32 533.4 912.7)" fill="#fff" stroke="none"/><ellipse cx="538.2" cy="909.9" rx="12.3" ry="19.5" transform="rotate(32 538.2 909.9)" fill="#fff" stroke="none"/><ellipse cx="543.0" cy="907.0" rx="12.3" ry="19.5" transform="rotate(32 543.0 907.0)" fill="#fff" stroke="none"/><ellipse cx="547.8" cy="904.2" rx="12.3" ry="19.5" transform="rotate(32 547.8 904.2)" fill="#fff" stroke="none"/><ellipse cx="552.5" cy="901.4" rx="12.3" ry="19.5" transform="rotate(32 552.5 901.4)" fill="#fff" stroke="none"/><ellipse cx="557.3" cy="898.5" rx="12.3" ry="19.5" transform="rotate(32 557.3 898.5)" fill="#fff" stroke="none"/><ellipse cx="562.1" cy="895.7" rx="12.3" ry="19.5" transform="rotate(32 562.1 895.7)" fill="#fff" stroke="none"/><ellipse cx="566.9" cy="892.9" rx="12.3" ry="19.5" transform="rotate(32 566.9 892.9)" fill="#fff" stroke="none"/><ellipse cx="571.7" cy="890.0" rx="12.3" ry="19.5" transform="rotate(32 571.7 890.0)" fill="#fff" stroke="none"/><ellipse cx="576.4" cy="887.2" rx="12.3" ry="19.5" transform="rotate(32 576.4 887.2)" fill="#fff" stroke="none"/><ellipse cx="581.2" cy="884.4" rx="12.3" ry="19.5" transform="rotate(32 581.2 884.4)" fill="#fff" stroke="none"/><ellipse cx="586.0" cy="881.5" rx="12.3" ry="19.5" transform="rotate(32 586.0 881.5)" fill="#fff" stroke="none"/><ellipse cx="590.8" cy="878.7" rx="12.3" ry="19.5" transform="rotate(32 590.8 878.7)" fill="#fff" stroke="none"/><ellipse cx="533.4" cy="912.7" rx="12.3" ry="19.5" transform="rotate(32 533.4 912.7)" stroke-width="2.70" fill="#fff"/><ellipse cx="534.9" cy="913.7" rx="9.8" ry="16.5" transform="rotate(32 534.9 913.7)" stroke-width="2.16"/><ellipse cx="533.4" cy="878.3" rx="12.3" ry="19.5" transform="rotate(32 533.4 878.3)" stroke-width="4.369999999999999"/><ellipse cx="538.2" cy="875.5" rx="12.3" ry="19.5" transform="rotate(32 538.2 875.5)" stroke-width="4.369999999999999"/><ellipse cx="543.0" cy="872.6" rx="12.3" ry="19.5" transform="rotate(32 543.0 872.6)" stroke-width="4.369999999999999"/><ellipse cx="547.8" cy="869.8" rx="12.3" ry="19.5" transform="rotate(32 547.8 869.8)" stroke-width="4.369999999999999"/><ellipse cx="552.5" cy="867.0" rx="12.3" ry="19.5" transform="rotate(32 552.5 867.0)" stroke-width="4.369999999999999"/><ellipse cx="557.3" cy="864.1" rx="12.3" ry="19.5" transform="rotate(32 557.3 864.1)" stroke-width="4.369999999999999"/><ellipse cx="562.1" cy="861.3" rx="12.3" ry="19.5" transform="rotate(32 562.1 861.3)" stroke-width="4.369999999999999"/><ellipse cx="566.9" cy="858.5" rx="12.3" ry="19.5" transform="rotate(32 566.9 858.5)" stroke-width="4.369999999999999"/><ellipse cx="571.7" cy="855.6" rx="12.3" ry="19.5" transform="rotate(32 571.7 855.6)" stroke-width="4.369999999999999"/><ellipse cx="576.4" cy="852.8" rx="12.3" ry="19.5" transform="rotate(32 576.4 852.8)" stroke-width="4.369999999999999"/><ellipse cx="581.2" cy="850.0" rx="12.3" ry="19.5" transform="rotate(32 581.2 850.0)" stroke-width="4.369999999999999"/><ellipse cx="586.0" cy="847.1" rx="12.3" ry="19.5" transform="rotate(32 586.0 847.1)" stroke-width="4.369999999999999"/><ellipse cx="590.8" cy="844.3" rx="12.3" ry="19.5" transform="rotate(32 590.8 844.3)" stroke-width="4.369999999999999"/><ellipse cx="533.4" cy="878.3" rx="12.3" ry="19.5" transform="rotate(32 533.4 878.3)" fill="#fff" stroke="none"/><ellipse cx="538.2" cy="875.5" rx="12.3" ry="19.5" transform="rotate(32 538.2 875.5)" fill="#fff" stroke="none"/><ellipse cx="543.0" cy="872.6" rx="12.3" ry="19.5" transform="rotate(32 543.0 872.6)" fill="#fff" stroke="none"/><ellipse cx="547.8" cy="869.8" rx="12.3" ry="19.5" transform="rotate(32 547.8 869.8)" fill="#fff" stroke="none"/><ellipse cx="552.5" cy="867.0" rx="12.3" ry="19.5" transform="rotate(32 552.5 867.0)" fill="#fff" stroke="none"/><ellipse cx="557.3" cy="864.1" rx="12.3" ry="19.5" transform="rotate(32 557.3 864.1)" fill="#fff" stroke="none"/><ellipse cx="562.1" cy="861.3" rx="12.3" ry="19.5" transform="rotate(32 562.1 861.3)" fill="#fff" stroke="none"/><ellipse cx="566.9" cy="858.5" rx="12.3" ry="19.5" transform="rotate(32 566.9 858.5)" fill="#fff" stroke="none"/><ellipse cx="571.7" cy="855.6" rx="12.3" ry="19.5" transform="rotate(32 571.7 855.6)" fill="#fff" stroke="none"/><ellipse cx="576.4" cy="852.8" rx="12.3" ry="19.5" transform="rotate(32 576.4 852.8)" fill="#fff" stroke="none"/><ellipse cx="581.2" cy="850.0" rx="12.3" ry="19.5" transform="rotate(32 581.2 850.0)" fill="#fff" stroke="none"/><ellipse cx="586.0" cy="847.1" rx="12.3" ry="19.5" transform="rotate(32 586.0 847.1)" fill="#fff" stroke="none"/><ellipse cx="590.8" cy="844.3" rx="12.3" ry="19.5" transform="rotate(32 590.8 844.3)" fill="#fff" stroke="none"/><ellipse cx="533.4" cy="878.3" rx="12.3" ry="19.5" transform="rotate(32 533.4 878.3)" stroke-width="2.70" fill="#fff"/><ellipse cx="534.9" cy="879.3" rx="9.8" ry="16.5" transform="rotate(32 534.9 879.3)" stroke-width="2.16"/><path transform="translate(428.0,797.0) scale(1.000)" d="M2,6 L7,0 L7,28" stroke-width="1.70"/><path transform="translate(442.5,797.0) scale(1.000)" d="M9,28 L9,0 L0.5,20.5 L12.5,20.5" stroke-width="1.70"/><path d="M423.0,824.0 L459.0,824.0 L496.0,843.0" stroke-width="1.82"/><path d="M584.8,905.0 L593.2,900.8 L593.2,872.8 L624.0,855.3 L653.4,872.1 L653.4,900.8 L661.8,905.0 L661.8,932.3 L631.0,950.5 L584.8,923.9 Z" stroke-width="2.43" fill="#fff"/><path d="M593.2,872.8 L622.6,889.6 L653.4,872.1" stroke-width="2.43"/><line x1="622.6" y1="889.6" x2="622.6" y2="917.6" stroke-width="2.43"/><path d="M622.6,917.6 L631.0,921.8 L661.8,905.0" stroke-width="2.43"/><line x1="631.0" y1="921.8" x2="631.0" y2="950.5" stroke-width="2.43"/><path d="M593.2,900.8 L593.2,909.0 L596.0,910.5 L596.0,903.0" stroke-width="1.89"/><path d="M680.0,900.0 L706.0,886.0 L728.0,898.0 L728.0,936.0 L703.0,949.0 L680.0,937.0 Z" stroke-width="2.43" fill="#fff"/><path d="M680.0,900.0 L703.0,912.0 L728.0,898.0" stroke-width="2.16"/><line x1="703.0" y1="912.0" x2="703.0" y2="949.0" stroke-width="2.16"/><path d="M706.0,914.0 L726.0,903.0 L726.0,932.0 L706.0,943.0 Z" stroke-width="2.70"/><path d="M709.0,916.0 L723.0,908.0 L723.0,929.0 L709.0,937.0 Z" stroke-width="1.62"/><line x1="683.0" y1="903.0" x2="683.0" y2="937.0" stroke-width="1.35"/><path d="M742.0,1074.0 L770.0,1089.0 L770.0,1006.0 L691.0,961.0 L691.0,998.0" stroke-width="2.29"/><line x1="693.0" y1="963.0" x2="770.0" y2="1008.0" stroke-width="2.43" stroke-dasharray="1.3,1.5"/><ellipse cx="705.0" cy="1030.0" rx="50" ry="33" transform="rotate(0 705.0 1030.0)" fill="#fff" stroke="none"/><ellipse cx="705.0" cy="1031.5" rx="50" ry="33" transform="rotate(0 705.0 1031.5)" fill="#fff" stroke="none"/><ellipse cx="705.0" cy="1033.0" rx="50" ry="33" transform="rotate(0 705.0 1033.0)" fill="#fff" stroke="none"/><ellipse cx="705.0" cy="1034.5" rx="50" ry="33" transform="rotate(0 705.0 1034.5)" fill="#fff" stroke="none"/><ellipse cx="705.0" cy="1036.0" rx="50" ry="33" transform="rotate(0 705.0 1036.0)" fill="#fff" stroke="none"/><ellipse cx="705.0" cy="1037.5" rx="50" ry="33" transform="rotate(0 705.0 1037.5)" fill="#fff" stroke="none"/><ellipse cx="705.0" cy="1039.0" rx="50" ry="33" transform="rotate(0 705.0 1039.0)" fill="#fff" stroke="none"/><ellipse cx="705.0" cy="1040.5" rx="50" ry="33" transform="rotate(0 705.0 1040.5)" fill="#fff" stroke="none"/><ellipse cx="705.0" cy="1042.0" rx="50" ry="33" transform="rotate(0 705.0 1042.0)" fill="#fff" stroke="none"/><ellipse cx="705.0" cy="1043.5" rx="50" ry="33" transform="rotate(0 705.0 1043.5)" fill="#fff" stroke="none"/><ellipse cx="705.0" cy="1045.0" rx="50" ry="33" transform="rotate(0 705.0 1045.0)" fill="#fff" stroke="none"/><ellipse cx="705.0" cy="1046.5" rx="50" ry="33" transform="rotate(0 705.0 1046.5)" fill="#fff" stroke="none"/><ellipse cx="705.0" cy="1048.0" rx="50" ry="33" transform="rotate(0 705.0 1048.0)" fill="#fff" stroke="none"/><path d="M655,1030 L655,1048 A50,33 0 0 0 755,1048 L755,1030" stroke-width="2.2" fill="#fff"/><line x1="754.6" y1="1034.3" x2="754.6" y2="1052.3" stroke="#1a1a1a" stroke-width="5.4"/><line x1="754.6" y1="1034.3" x2="754.6" y2="1052.3" stroke="#d8d8d8" stroke-width="2.0"/><line x1="751.2" y1="1042.6" x2="751.2" y2="1060.6" stroke="#1a1a1a" stroke-width="5.4"/><line x1="751.2" y1="1042.6" x2="751.2" y2="1060.6" stroke="#d8d8d8" stroke-width="2.0"/><line x1="744.7" y1="1050.1" x2="744.7" y2="1068.1" stroke="#1a1a1a" stroke-width="5.4"/><line x1="744.7" y1="1050.1" x2="744.7" y2="1068.1" stroke="#d8d8d8" stroke-width="2.0"/><line x1="735.4" y1="1056.2" x2="735.4" y2="1074.2" stroke="#1a1a1a" stroke-width="5.4"/><line x1="735.4" y1="1056.2" x2="735.4" y2="1074.2" stroke="#d8d8d8" stroke-width="2.0"/><line x1="724.1" y1="1060.5" x2="724.1" y2="1078.5" stroke="#1a1a1a" stroke-width="5.4"/><line x1="724.1" y1="1060.5" x2="724.1" y2="1078.5" stroke="#d8d8d8" stroke-width="2.0"/><line x1="711.5" y1="1062.7" x2="711.5" y2="1080.7" stroke="#1a1a1a" stroke-width="5.4"/><line x1="711.5" y1="1062.7" x2="711.5" y2="1080.7" stroke="#d8d8d8" stroke-width="2.0"/><line x1="698.5" y1="1062.7" x2="698.5" y2="1080.7" stroke="#1a1a1a" stroke-width="5.4"/><line x1="698.5" y1="1062.7" x2="698.5" y2="1080.7" stroke="#d8d8d8" stroke-width="2.0"/><line x1="685.9" y1="1060.5" x2="685.9" y2="1078.5" stroke="#1a1a1a" stroke-width="5.4"/><line x1="685.9" y1="1060.5" x2="685.9" y2="1078.5" stroke="#d8d8d8" stroke-width="2.0"/><line x1="674.6" y1="1056.2" x2="674.6" y2="1074.2" stroke="#1a1a1a" stroke-width="5.4"/><line x1="674.6" y1="1056.2" x2="674.6" y2="1074.2" stroke="#d8d8d8" stroke-width="2.0"/><line x1="665.3" y1="1050.1" x2="665.3" y2="1068.1" stroke="#1a1a1a" stroke-width="5.4"/><line x1="665.3" y1="1050.1" x2="665.3" y2="1068.1" stroke="#d8d8d8" stroke-width="2.0"/><line x1="658.8" y1="1042.6" x2="658.8" y2="1060.6" stroke="#1a1a1a" stroke-width="5.4"/><line x1="658.8" y1="1042.6" x2="658.8" y2="1060.6" stroke="#d8d8d8" stroke-width="2.0"/><line x1="655.4" y1="1034.3" x2="655.4" y2="1052.3" stroke="#1a1a1a" stroke-width="5.4"/><line x1="655.4" y1="1034.3" x2="655.4" y2="1052.3" stroke="#d8d8d8" stroke-width="2.0"/><ellipse cx="705.0" cy="1030.0" rx="49.0" ry="32.0" stroke-width="1.62" fill="#fff"/><ellipse cx="705.5" cy="1023.0" rx="18.5" ry="13.5" stroke-width="3.24" fill="#fff"/><line x1="693.5" y1="1014.0" x2="693.5" y2="1033.0" stroke="#1a1a1a" stroke-width="3.8"/><line x1="693.5" y1="1014.0" x2="693.5" y2="1033.0" stroke="#ccc" stroke-width="1.4"/><line x1="697.5" y1="1014.0" x2="697.5" y2="1033.0" stroke="#1a1a1a" stroke-width="3.8"/><line x1="697.5" y1="1014.0" x2="697.5" y2="1033.0" stroke="#ccc" stroke-width="1.4"/><line x1="701.5" y1="1014.0" x2="701.5" y2="1033.0" stroke="#1a1a1a" stroke-width="3.8"/><line x1="701.5" y1="1014.0" x2="701.5" y2="1033.0" stroke="#ccc" stroke-width="1.4"/><line x1="705.5" y1="1014.0" x2="705.5" y2="1033.0" stroke="#1a1a1a" stroke-width="3.8"/><line x1="705.5" y1="1014.0" x2="705.5" y2="1033.0" stroke="#ccc" stroke-width="1.4"/><line x1="709.5" y1="1014.0" x2="709.5" y2="1033.0" stroke="#1a1a1a" stroke-width="3.8"/><line x1="709.5" y1="1014.0" x2="709.5" y2="1033.0" stroke="#ccc" stroke-width="1.4"/><line x1="713.5" y1="1014.0" x2="713.5" y2="1033.0" stroke="#1a1a1a" stroke-width="3.8"/><line x1="713.5" y1="1014.0" x2="713.5" y2="1033.0" stroke="#ccc" stroke-width="1.4"/><line x1="717.5" y1="1014.0" x2="717.5" y2="1033.0" stroke="#1a1a1a" stroke-width="3.8"/><line x1="717.5" y1="1014.0" x2="717.5" y2="1033.0" stroke="#ccc" stroke-width="1.4"/><line x1="725.3" y1="1024.9" x2="754.6" y2="1034.3" stroke="#1a1a1a" stroke-width="5.4"/><line x1="725.3" y1="1024.9" x2="754.6" y2="1034.3" stroke="#d8d8d8" stroke-width="2.0"/><line x1="724.0" y1="1028.5" x2="751.2" y2="1042.6" stroke="#1a1a1a" stroke-width="5.4"/><line x1="724.0" y1="1028.5" x2="751.2" y2="1042.6" stroke="#d8d8d8" stroke-width="2.0"/><line x1="721.4" y1="1031.8" x2="744.7" y2="1050.1" stroke="#1a1a1a" stroke-width="5.4"/><line x1="721.4" y1="1031.8" x2="744.7" y2="1050.1" stroke="#d8d8d8" stroke-width="2.0"/><line x1="717.7" y1="1034.5" x2="735.4" y2="1056.2" stroke="#1a1a1a" stroke-width="5.4"/><line x1="717.7" y1="1034.5" x2="735.4" y2="1056.2" stroke="#d8d8d8" stroke-width="2.0"/><line x1="713.2" y1="1036.4" x2="724.1" y2="1060.5" stroke="#1a1a1a" stroke-width="5.4"/><line x1="713.2" y1="1036.4" x2="724.1" y2="1060.5" stroke="#d8d8d8" stroke-width="2.0"/><line x1="708.1" y1="1037.4" x2="711.5" y2="1062.7" stroke="#1a1a1a" stroke-width="5.4"/><line x1="708.1" y1="1037.4" x2="711.5" y2="1062.7" stroke="#d8d8d8" stroke-width="2.0"/><line x1="702.9" y1="1037.4" x2="698.5" y2="1062.7" stroke="#1a1a1a" stroke-width="5.4"/><line x1="702.9" y1="1037.4" x2="698.5" y2="1062.7" stroke="#d8d8d8" stroke-width="2.0"/><line x1="697.8" y1="1036.4" x2="685.9" y2="1060.5" stroke="#1a1a1a" stroke-width="5.4"/><line x1="697.8" y1="1036.4" x2="685.9" y2="1060.5" stroke="#d8d8d8" stroke-width="2.0"/><line x1="693.3" y1="1034.5" x2="674.6" y2="1056.2" stroke="#1a1a1a" stroke-width="5.4"/><line x1="693.3" y1="1034.5" x2="674.6" y2="1056.2" stroke="#d8d8d8" stroke-width="2.0"/><line x1="689.6" y1="1031.8" x2="665.3" y2="1050.1" stroke="#1a1a1a" stroke-width="5.4"/><line x1="689.6" y1="1031.8" x2="665.3" y2="1050.1" stroke="#d8d8d8" stroke-width="2.0"/><line x1="687.0" y1="1028.5" x2="658.8" y2="1042.6" stroke="#1a1a1a" stroke-width="5.4"/><line x1="687.0" y1="1028.5" x2="658.8" y2="1042.6" stroke="#d8d8d8" stroke-width="2.0"/><line x1="685.7" y1="1024.9" x2="655.4" y2="1034.3" stroke="#1a1a1a" stroke-width="5.4"/><line x1="685.7" y1="1024.9" x2="655.4" y2="1034.3" stroke="#d8d8d8" stroke-width="2.0"/><line x1="685.7" y1="1021.1" x2="655.4" y2="1025.7" stroke="#1a1a1a" stroke-width="5.4"/><line x1="685.7" y1="1021.1" x2="655.4" y2="1025.7" stroke="#d8d8d8" stroke-width="2.0"/><line x1="687.0" y1="1017.5" x2="658.8" y2="1017.4" stroke="#1a1a1a" stroke-width="5.4"/><line x1="687.0" y1="1017.5" x2="658.8" y2="1017.4" stroke="#d8d8d8" stroke-width="2.0"/><line x1="689.6" y1="1014.2" x2="665.3" y2="1009.9" stroke="#1a1a1a" stroke-width="5.4"/><line x1="689.6" y1="1014.2" x2="665.3" y2="1009.9" stroke="#d8d8d8" stroke-width="2.0"/><line x1="693.3" y1="1011.5" x2="674.6" y2="1003.8" stroke="#1a1a1a" stroke-width="5.4"/><line x1="693.3" y1="1011.5" x2="674.6" y2="1003.8" stroke="#d8d8d8" stroke-width="2.0"/><line x1="697.8" y1="1009.6" x2="685.9" y2="999.5" stroke="#1a1a1a" stroke-width="5.4"/><line x1="697.8" y1="1009.6" x2="685.9" y2="999.5" stroke="#d8d8d8" stroke-width="2.0"/><line x1="702.9" y1="1008.6" x2="698.5" y2="997.3" stroke="#1a1a1a" stroke-width="5.4"/><line x1="702.9" y1="1008.6" x2="698.5" y2="997.3" stroke="#d8d8d8" stroke-width="2.0"/><line x1="708.1" y1="1008.6" x2="711.5" y2="997.3" stroke="#1a1a1a" stroke-width="5.4"/><line x1="708.1" y1="1008.6" x2="711.5" y2="997.3" stroke="#d8d8d8" stroke-width="2.0"/><line x1="713.2" y1="1009.6" x2="724.1" y2="999.5" stroke="#1a1a1a" stroke-width="5.4"/><line x1="713.2" y1="1009.6" x2="724.1" y2="999.5" stroke="#d8d8d8" stroke-width="2.0"/><line x1="717.7" y1="1011.5" x2="735.4" y2="1003.8" stroke="#1a1a1a" stroke-width="5.4"/><line x1="717.7" y1="1011.5" x2="735.4" y2="1003.8" stroke="#d8d8d8" stroke-width="2.0"/><line x1="721.4" y1="1014.2" x2="744.7" y2="1009.9" stroke="#1a1a1a" stroke-width="5.4"/><line x1="721.4" y1="1014.2" x2="744.7" y2="1009.9" stroke="#d8d8d8" stroke-width="2.0"/><line x1="724.0" y1="1017.5" x2="751.2" y2="1017.4" stroke="#1a1a1a" stroke-width="5.4"/><line x1="724.0" y1="1017.5" x2="751.2" y2="1017.4" stroke="#d8d8d8" stroke-width="2.0"/><line x1="725.3" y1="1021.1" x2="754.6" y2="1025.7" stroke="#1a1a1a" stroke-width="5.4"/><line x1="725.3" y1="1021.1" x2="754.6" y2="1025.7" stroke="#d8d8d8" stroke-width="2.0"/><path transform="translate(869.0,1008.0) scale(1.000)" d="M0.5,0.5 L12,0.5 C8,8 5,18 4,28" stroke-width="1.70"/><path d="M758.0,1071.0 L856.0,1037.0 L893.0,1037.0" stroke-width="1.82"/><line x1="653.5" y1="1118.7" x2="666.0" y2="1111.9" stroke-width="3.24"/><line x1="659.7" y1="1122.1" x2="672.2" y2="1115.3" stroke-width="3.24"/><line x1="665.9" y1="1125.5" x2="678.4" y2="1118.7" stroke-width="3.24"/><path d="M626.0,1128.0 L648.0,1115.0 L665.0,1128.0 L643.0,1137.0 Z" stroke-width="2.29" fill="#fff"/><path d="M626.0,1128.0 L626.0,1134.5 L643.0,1144.0 L643.0,1137.0 Z" stroke-width="2.29" fill="#fff"/><path d="M643.0,1144.0 L665.0,1132.5 L665.0,1128.0" stroke-width="2.29"/><path d="M651.0,1121.0 L659.0,1126.0" stroke-width="1.62"/><ellipse cx="641.0" cy="1130.0" rx="3.4" ry="2.8" stroke-width="1.62" fill="#444"/><path d="M647.0,1141.0 L650.0,1139.0 L653.0,1141.0" stroke-width="1.89"/><line x1="693.5" y1="1143.7" x2="706.0" y2="1136.9" stroke-width="3.24"/><line x1="699.7" y1="1147.1" x2="712.2" y2="1140.3" stroke-width="3.24"/><line x1="705.9" y1="1150.5" x2="718.4" y2="1143.7" stroke-width="3.24"/><path d="M666.0,1153.0 L688.0,1140.0 L705.0,1153.0 L683.0,1162.0 Z" stroke-width="2.29" fill="#fff"/><path d="M666.0,1153.0 L666.0,1159.5 L683.0,1169.0 L683.0,1162.0 Z" stroke-width="2.29" fill="#fff"/><path d="M683.0,1169.0 L705.0,1157.5 L705.0,1153.0" stroke-width="2.29"/><path d="M691.0,1146.0 L699.0,1151.0" stroke-width="1.62"/><ellipse cx="681.0" cy="1155.0" rx="3.4" ry="2.8" stroke-width="1.62" fill="#444"/><path d="M687.0,1166.0 L690.0,1164.0 L693.0,1166.0" stroke-width="1.89"/><line x1="737.5" y1="1172.7" x2="750.0" y2="1165.9" stroke-width="3.24"/><line x1="743.7" y1="1176.1" x2="756.2" y2="1169.3" stroke-width="3.24"/><line x1="749.9" y1="1179.5" x2="762.4" y2="1172.7" stroke-width="3.24"/><path d="M710.0,1182.0 L732.0,1169.0 L749.0,1182.0 L727.0,1191.0 Z" stroke-width="2.29" fill="#fff"/><path d="M710.0,1182.0 L710.0,1188.5 L727.0,1198.0 L727.0,1191.0 Z" stroke-width="2.29" fill="#fff"/><path d="M727.0,1198.0 L749.0,1186.5 L749.0,1182.0" stroke-width="2.29"/><path d="M735.0,1175.0 L743.0,1180.0" stroke-width="1.62"/><ellipse cx="725.0" cy="1184.0" rx="3.4" ry="2.8" stroke-width="1.62" fill="#444"/><path d="M731.0,1195.0 L734.0,1193.0 L737.0,1195.0" stroke-width="1.89"/><line x1="514.5" y1="1053.7" x2="527.0" y2="1046.9" stroke-width="3.24"/><line x1="520.7" y1="1057.1" x2="533.2" y2="1050.3" stroke-width="3.24"/><line x1="526.9" y1="1060.5" x2="539.4" y2="1053.7" stroke-width="3.24"/><path d="M487.0,1063.0 L509.0,1050.0 L526.0,1063.0 L504.0,1072.0 Z" stroke-width="2.29" fill="#fff"/><path d="M487.0,1063.0 L487.0,1069.5 L504.0,1079.0 L504.0,1072.0 Z" stroke-width="2.29" fill="#fff"/><path d="M504.0,1079.0 L526.0,1067.5 L526.0,1063.0" stroke-width="2.29"/><path d="M512.0,1056.0 L520.0,1061.0" stroke-width="1.62"/><ellipse cx="502.0" cy="1065.0" rx="3.4" ry="2.8" stroke-width="1.62" fill="#444"/><path d="M508.0,1076.0 L511.0,1074.0 L514.0,1076.0" stroke-width="1.89"/><line x1="555.5" y1="1078.7" x2="568.0" y2="1071.9" stroke-width="3.24"/><line x1="561.7" y1="1082.1" x2="574.2" y2="1075.3" stroke-width="3.24"/><line x1="567.9" y1="1085.5" x2="580.4" y2="1078.7" stroke-width="3.24"/><path d="M528.0,1088.0 L550.0,1075.0 L567.0,1088.0 L545.0,1097.0 Z" stroke-width="2.29" fill="#fff"/><path d="M528.0,1088.0 L528.0,1094.5 L545.0,1104.0 L545.0,1097.0 Z" stroke-width="2.29" fill="#fff"/><path d="M545.0,1104.0 L567.0,1092.5 L567.0,1088.0" stroke-width="2.29"/><path d="M553.0,1081.0 L561.0,1086.0" stroke-width="1.62"/><ellipse cx="543.0" cy="1090.0" rx="3.4" ry="2.8" stroke-width="1.62" fill="#444"/><path d="M549.0,1101.0 L552.0,1099.0 L555.0,1101.0" stroke-width="1.89"/><path transform="translate(807.0,1198.0) scale(1.000)" d="M6,13 C3,13 1.5,10.5 1.5,6.5 C1.5,2.5 3.5,0 6,0 C8.5,0 10.5,2.5 10.5,6.5 C10.5,10.5 9,13 6,13 C2.5,13 0.5,16 0.5,20.5 C0.5,25 3,28 6,28 C9,28 11.5,25 11.5,20.5 C11.5,16 9.5,13 6,13 Z" stroke-width="1.70"/><path d="M740.0,1193.0 L792.0,1228.0 L831.0,1228.0" stroke-width="1.82"/><path d="M414.0,1199.0 L531.6,1131.0 L531.6,1126.0 L460.0,1082.0 L446.0,1090.0" stroke-width="2.29"/><path d="M415.0,1079.0 L490.6,1122.0 L490.6,1148.0 L415.0,1104.0 Z" fill="#fff" stroke="none"/><path d="M414.0,1080.0 L416.0,1077.0 L491.6,1120.0 L491.6,1147.0" stroke-width="2.56"/><path d="M489.1,1122.0 L489.1,1148.0" stroke-width="1.89"/><path d="M414.5,1081.0 L489.1,1123.5" stroke-width="1.08"/><path d="M402.4,1086.0 L478.0,1129.0 L478.0,1155.0 L402.4,1111.0 Z" fill="#fff" stroke="none"/><path d="M401.4,1087.0 L403.4,1084.0 L479.0,1127.0 L479.0,1154.0" stroke-width="2.56"/><path d="M476.5,1129.0 L476.5,1155.0" stroke-width="1.89"/><path d="M401.9,1088.0 L476.5,1130.5" stroke-width="1.08"/><path d="M389.8,1093.0 L465.4,1136.0 L465.4,1162.0 L389.8,1118.0 Z" fill="#fff" stroke="none"/><path d="M388.8,1094.0 L390.8,1091.0 L466.4,1134.0 L466.4,1161.0" stroke-width="2.56"/><path d="M463.9,1136.0 L463.9,1162.0" stroke-width="1.89"/><path d="M389.3,1095.0 L463.9,1137.5" stroke-width="1.08"/><path d="M377.2,1100.0 L452.8,1143.0 L452.8,1169.0 L377.2,1125.0 Z" fill="#fff" stroke="none"/><path d="M376.2,1101.0 L378.2,1098.0 L453.8,1141.0 L453.8,1168.0" stroke-width="2.56"/><path d="M451.3,1143.0 L451.3,1169.0" stroke-width="1.89"/><path d="M376.7,1102.0 L451.3,1144.5" stroke-width="1.08"/><path d="M364.6,1107.0 L440.2,1150.0 L440.2,1176.0 L364.6,1132.0 Z" fill="#fff" stroke="none"/><path d="M363.6,1108.0 L365.6,1105.0 L441.2,1148.0 L441.2,1175.0" stroke-width="2.56"/><path d="M438.7,1150.0 L438.7,1176.0" stroke-width="1.89"/><path d="M364.1,1109.0 L438.7,1151.5" stroke-width="1.08"/><path d="M352.0,1114.0 L427.6,1157.0 L427.6,1183.0 L352.0,1139.0 Z" fill="#fff" stroke="none"/><path d="M351.0,1115.0 L353.0,1112.0 L428.6,1155.0 L428.6,1182.0" stroke-width="2.56"/><path d="M426.1,1157.0 L426.1,1183.0" stroke-width="1.89"/><path d="M351.5,1116.0 L426.1,1158.5" stroke-width="1.08"/><line x1="418.0" y1="1193.0" x2="531.6" y2="1126.0" stroke-width="2.16"/><path d="M338.4,1119.0 L342.4,1117.0 L418.0,1160.0 L418.0,1196.0 L414.0,1199.0 L338.4,1156.0 Z" stroke-width="2.56" fill="#fff"/><path d="M338.4,1119.0 L414.0,1162.0 L414.0,1199.0" stroke-width="2.16"/><ellipse cx="374.7" cy="1157.6" rx="2.6" ry="3.2" transform="rotate(20 374.7 1157.6)" stroke-width="2.03"/><path d="M596.0,1273.5 L712.7,1203.1 L712.7,1198.1 L629.5,1149.6 L615.5,1157.6" stroke-width="2.29"/><path d="M584.6,1147.8 L671.8,1195.3 L671.8,1223.3 L584.6,1174.8 Z" fill="#fff" stroke="none"/><path d="M583.6,1148.8 L585.6,1145.8 L672.8,1193.3 L672.8,1222.3" stroke-width="2.56"/><path d="M670.3,1195.3 L670.3,1223.3" stroke-width="1.89"/><path d="M584.1,1149.8 L670.3,1196.8" stroke-width="1.08"/><path d="M572.1,1155.0 L659.3,1202.5 L659.3,1230.5 L572.1,1182.0 Z" fill="#fff" stroke="none"/><path d="M571.1,1156.0 L573.1,1153.0 L660.3,1200.5 L660.3,1229.5" stroke-width="2.56"/><path d="M657.8,1202.5 L657.8,1230.5" stroke-width="1.89"/><path d="M571.6,1157.0 L657.8,1204.0" stroke-width="1.08"/><path d="M559.6,1162.2 L646.8,1209.7 L646.8,1237.7 L559.6,1189.2 Z" fill="#fff" stroke="none"/><path d="M558.6,1163.2 L560.6,1160.2 L647.8,1207.7 L647.8,1236.7" stroke-width="2.56"/><path d="M645.3,1209.7 L645.3,1237.7" stroke-width="1.89"/><path d="M559.1,1164.2 L645.3,1211.2" stroke-width="1.08"/><path d="M547.2,1169.4 L634.4,1216.9 L634.4,1244.9 L547.2,1196.4 Z" fill="#fff" stroke="none"/><path d="M546.2,1170.4 L548.2,1167.4 L635.4,1214.9 L635.4,1243.9" stroke-width="2.56"/><path d="M632.9,1216.9 L632.9,1244.9" stroke-width="1.89"/><path d="M546.7,1171.4 L632.9,1218.4" stroke-width="1.08"/><path d="M534.7,1176.6 L621.9,1224.1 L621.9,1252.1 L534.7,1203.6 Z" fill="#fff" stroke="none"/><path d="M533.7,1177.6 L535.7,1174.6 L622.9,1222.1 L622.9,1251.1" stroke-width="2.56"/><path d="M620.4,1224.1 L620.4,1252.1" stroke-width="1.89"/><path d="M534.2,1178.6 L620.4,1225.6" stroke-width="1.08"/><path d="M522.3,1183.8 L609.5,1231.3 L609.5,1259.3 L522.3,1210.8 Z" fill="#fff" stroke="none"/><path d="M521.3,1184.8 L523.3,1181.8 L610.5,1229.3 L610.5,1258.3" stroke-width="2.56"/><path d="M608.0,1231.3 L608.0,1259.3" stroke-width="1.89"/><path d="M521.8,1185.8 L608.0,1232.8" stroke-width="1.08"/><line x1="600.0" y1="1267.5" x2="712.7" y2="1198.1" stroke-width="2.16"/><path d="M508.8,1189.0 L512.8,1187.0 L600.0,1234.5 L600.0,1270.5 L596.0,1273.5 L508.8,1226.0 Z" stroke-width="2.56" fill="#fff"/><path d="M508.8,1189.0 L596.0,1236.5 L596.0,1273.5" stroke-width="2.16"/><ellipse cx="550.7" cy="1229.8" rx="2.6" ry="3.2" transform="rotate(20 550.7 1229.8)" stroke-width="2.03"/><path transform="translate(354.0,1255.0) scale(1.000)" d="M2,6 L7,0 L7,28" stroke-width="1.70"/><path transform="translate(368.5,1255.0) scale(1.000)" d="M6,0 C2,0 0.5,6 0.5,14 C0.5,22 2,28 6,28 C10,28 11.5,22 11.5,14 C11.5,6 10,0 6,0 Z" stroke-width="1.70"/><path d="M408.0,1190.0 L397.0,1288.0 L340.0,1288.0" stroke-width="1.82"/><path transform="translate(684.0,1269.0) scale(1.000)" d="M11,12 C10,15 8,16.5 6,16.5 C3,16.5 1,13.5 1,8.5 C1,3 3.5,0 6,0 C9,0 11,3 11,11 C11,22 9,28 6,28 C3.5,28 2,26.5 1.2,25" stroke-width="1.70"/><path d="M624.0,1249.0 L671.0,1298.0 L709.0,1298.0" stroke-width="1.82"/><path d="M445.8,1021.2 L445.8,1048.2 L449.8,1046.2 L449.8,1019.2" fill="#fff" stroke-width="2.6"/><path d="M434.3,1027.8 L434.3,1054.8 L438.3,1052.8 L438.3,1025.8" fill="#fff" stroke-width="2.6"/><path d="M422.8,1034.4 L422.8,1061.4 L426.8,1059.4 L426.8,1032.4" fill="#fff" stroke-width="2.6"/><path d="M411.3,1041.0 L411.3,1068.0 L415.3,1066.0 L415.3,1039.0" fill="#fff" stroke-width="2.6"/><path d="M399.8,1047.6 L399.8,1074.6 L403.8,1072.6 L403.8,1045.6" fill="#fff" stroke-width="2.6"/><path d="M388.3,1054.2 L388.3,1081.2 L392.3,1079.2 L392.3,1052.2" fill="#fff" stroke-width="2.6"/><path d="M376.8,1060.8 L376.8,1087.8 L380.8,1085.8 L380.8,1058.8" fill="#fff" stroke-width="2.6"/><path d="M294.7,1016.3 L410.5,951.7 L486.0,991.3 L371.0,1058.8 Z" stroke-width="2.43" fill="#fff"/><path d="M486.0,991.3 L486.8,998.0 L373.9,1062.5 L371.0,1058.8" stroke-width="2.29"/><path d="M294.7,1016.3 L294.7,1051.5 L369.5,1094.0 L373.9,1092.0 L373.9,1062.5" stroke-width="2.43"/><line x1="371.0" y1="1058.8" x2="371.0" y2="1093.0" stroke-width="1.76"/><ellipse cx="332.0" cy="1053.7" rx="2.5" ry="3.2" transform="rotate(20 332.0 1053.7)" stroke-width="2.03"/><path d="M324.0,1009.0 L367.0,985.5 L412.7,1009.0 L412.7,1025.8 L369.5,1049.3 L324.0,1025.0 Z" stroke-width="2.70" fill="#fff"/><path d="M324.0,1009.0 L369.5,1032.4 L412.7,1009.0" stroke-width="2.70"/><line x1="369.5" y1="1032.4" x2="369.5" y2="1049.3" stroke-width="2.70"/><path d="M337.6,1006.7 L337.6,994.7 L341.6,991.7 L345.6,994.7 L345.6,1006.7" stroke-width="2.43"/><line x1="339.6" y1="1004.7" x2="339.6" y2="995.7" stroke-width="1.62"/><path d="M367.0,992.0 L367.0,980.0 L371.0,977.0 L375.0,980.0 L375.0,992.0" stroke-width="2.43"/><line x1="369.0" y1="990.0" x2="369.0" y2="981.0" stroke-width="1.62"/><path d="M389.0,1005.0 L389.0,993.0 L393.0,990.0 L397.0,993.0 L397.0,1005.0" stroke-width="2.43"/><line x1="391.0" y1="1003.0" x2="391.0" y2="994.0" stroke-width="1.62"/><line x1="341.0" y1="1002.0" x2="371.0" y2="987.0" stroke-width="1.89"/><ellipse cx="366.5" cy="1011.0" rx="4.0" ry="3.0" transform="rotate(20 366.5 1011.0)" stroke-width="2.43"/><ellipse cx="366.0" cy="1018.0" rx="3.0" ry="3.0" stroke-width="2.16"/><line x1="421.5" y1="954.7" x2="434.0" y2="947.9" stroke-width="3.24"/><line x1="427.7" y1="958.1" x2="440.2" y2="951.3" stroke-width="3.24"/><line x1="433.9" y1="961.5" x2="446.4" y2="954.7" stroke-width="3.24"/><path d="M394.0,964.0 L416.0,951.0 L433.0,964.0 L411.0,973.0 Z" stroke-width="2.29" fill="#fff"/><path d="M394.0,964.0 L394.0,970.5 L411.0,980.0 L411.0,973.0 Z" stroke-width="2.29" fill="#fff"/><path d="M411.0,980.0 L433.0,968.5 L433.0,964.0" stroke-width="2.29"/><path d="M419.0,957.0 L427.0,962.0" stroke-width="1.62"/><ellipse cx="409.0" cy="966.0" rx="3.4" ry="2.8" stroke-width="1.62" fill="#444"/><path d="M415.0,977.0 L418.0,975.0 L421.0,977.0" stroke-width="1.89"/><line x1="464.5" y1="978.7" x2="477.0" y2="971.9" stroke-width="3.24"/><line x1="470.7" y1="982.1" x2="483.2" y2="975.3" stroke-width="3.24"/><line x1="476.9" y1="985.5" x2="489.4" y2="978.7" stroke-width="3.24"/><path d="M437.0,988.0 L459.0,975.0 L476.0,988.0 L454.0,997.0 Z" stroke-width="2.29" fill="#fff"/><path d="M437.0,988.0 L437.0,994.5 L454.0,1004.0 L454.0,997.0 Z" stroke-width="2.29" fill="#fff"/><path d="M454.0,1004.0 L476.0,992.5 L476.0,988.0" stroke-width="2.29"/><path d="M462.0,981.0 L470.0,986.0" stroke-width="1.62"/><ellipse cx="452.0" cy="990.0" rx="3.4" ry="2.8" stroke-width="1.62" fill="#444"/><path d="M458.0,1001.0 L461.0,999.0 L464.0,1001.0" stroke-width="1.89"/><path transform="translate(223.0,998.0) scale(1.000)" d="M2,6 L7,0 L7,28" stroke-width="1.70"/><path transform="translate(237.5,998.0) scale(1.000)" d="M2,6 L7,0 L7,28" stroke-width="1.70"/><path d="M218.0,1026.0 L256.0,1026.0 L301.0,1048.0" stroke-width="1.82"/><path transform="translate(264.0,953.0) scale(1.000)" d="M2,6 L7,0 L7,28" stroke-width="1.70"/><path transform="translate(278.5,953.0) scale(1.000)" d="M1,7 C1,2 3.5,0 6,0 C9,0 11,2.5 11,7 C11,13 1,21 0.5,28 L12,28" stroke-width="1.70"/><path d="M258.0,982.0 L291.0,982.0 L330.0,998.0" stroke-width="1.82"/><path transform="translate(333.0,902.0) scale(1.000)" d="M2,6 L7,0 L7,28" stroke-width="1.70"/><path transform="translate(347.5,902.0) scale(1.000)" d="M1,3 C2.5,0.5 4,0 6,0 C9,0 10.5,3 10.5,6.5 C10.5,10.5 8,13 5,13 C9,13 11.5,16 11.5,20.5 C11.5,25.5 9,28 6,28 C3,28 1.2,26 0.5,24" stroke-width="1.70"/><path d="M328.0,929.5 L366.0,929.5 L411.0,950.0" stroke-width="1.82"/><path d="M274.4,1085.2 L282.8,1081.6 L305.6,1093.6 L305.6,1229.2 L290.0,1237.6 L266.0,1224.0 L266.0,1190.0 L274.4,1186.0 Z" stroke-width="2.56" fill="#fff"/><path d="M274.4,1085.2 L298.4,1097.2 L305.6,1093.6" stroke-width="2.29"/><line x1="298.4" y1="1097.2" x2="298.4" y2="1236.0" stroke-width="2.29"/><path d="M297.0,1097.0 L297.0,1197.0" stroke-width="1.49"/><ellipse cx="286.5" cy="1110.5" rx="5.0" ry="7.5" transform="rotate(-25 286.5 1110.5)" stroke-width="2.16"/><path d="M287,1106 Q292,1110 289,1116" stroke-width="1.2"/><ellipse cx="286.5" cy="1178.0" rx="5.0" ry="7.5" transform="rotate(-25 286.5 1178.0)" stroke-width="2.16"/><path d="M287,1173 Q292,1177 289,1183" stroke-width="1.2"/><path d="M266.0,1224.0 L290.0,1237.6" stroke-width="2.43"/><path d="M268.0,1222.0 L271.0,1190.0 L280.0,1193.0 L276.0,1227.0" stroke-width="1.76"/><path d="M284.0,1228.0 L291.0,1195.0 L298.0,1199.0" stroke-width="1.76"/><line x1="266.0" y1="1216.0" x2="290.0" y2="1229.0" stroke-width="1.62"/><path d="M516.0,1266.0 L523.0,1262.0 L547.0,1273.0 L547.0,1334.0 L533.0,1341.0 L510.0,1329.0 L510.0,1302.0 L516.0,1299.0 Z" stroke-width="2.56" fill="#fff"/><path d="M516.0,1266.0 L540.0,1278.0 L547.0,1273.0" stroke-width="2.29"/><line x1="540.0" y1="1278.0" x2="540.0" y2="1340.0" stroke-width="2.29"/><ellipse cx="527.6" cy="1283.0" rx="5.0" ry="6.8" transform="rotate(-25 527.6 1283.0)" stroke-width="2.16"/><path d="M528,1278 Q533,1282 530,1288" stroke-width="1.2"/><path d="M512.0,1326.0 L514.0,1302.0 L522.0,1305.0 L520.0,1331.0" stroke-width="1.76"/><path d="M528.0,1332.0 L533.0,1306.0 L540.0,1309.0" stroke-width="1.76"/><line x1="510.0" y1="1321.0" x2="533.0" y2="1333.0" stroke-width="1.62"/>
</g>
<line x1="0" y1="1371.5" x2="1500" y2="1371.5" stroke="#222" stroke-width="1.6"/>

<g transform="translate(31.2,1406.2)">
<rect x="0" y="0" width="215" height="59.5" fill="#807f84"/>
<path d="M35.8,11 L54.2,29.9 L35.8,48.8 L26.5,39.3 L26.5,20.5 Z" fill="#fff"/>
<path d="M26,22.8 L37,22.8 Q42.5,22.8 42.5,28.2 L42.5,31.6 Q42.5,37 37,37 L26,37" fill="none" stroke="#807f84" stroke-width="2.4"/>
<rect x="15.7" y="23.9" width="23" height="4.4" rx="2.2" fill="#fff"/>
<rect x="15.7" y="30.6" width="23" height="4.4" rx="2.2" fill="#fff"/>
<g fill="#fff">
 <path d="M62.6,15.8 L85,15.8 Q92.7,15.8 92.7,23.5 L92.7,35.3 Q92.7,43 85,43 L67,43 L62.6,35.6 Z"/>
 <path d="M96.4,15.8 L106.2,15.8 L106.2,31.2 L96.4,31.2 Z"/>
 <path d="M118.4,15.8 L127.9,15.8 L127.9,43 L101,43 Q96.4,43 96.4,38.5 L96.4,33.4 L118.4,33.4 Z"/>
 <path d="M132.3,15.8 L163.8,15.8 L163.8,23.9 L142.2,23.9 L142.2,30.5 L157,30.5 Q163.8,30.5 163.8,36.8 Q163.8,43 157,43 L132.3,43 Z"/>
 <path d="M167.5,15.8 L193,15.8 Q199.8,15.8 199.8,22.6 L199.8,26.8 Q199.8,33.6 193,33.6 L176.5,33.6 L176.5,43 L167.5,43 Z"/>
</g>
<g fill="#807f84">
 <rect x="61" y="23.9" width="22.9" height="2.9"/>
 <rect x="61" y="32.7" width="22.9" height="2.9"/>
 <rect x="61" y="26.8" width="11.2" height="5.9"/>
 <rect x="142.2" y="33.4" width="12.8" height="3"/>
 <rect x="177" y="23.2" width="14" height="3.6"/>
</g>
</g>
<text x="289" y="1451" font-family="Liberation Sans" font-size="37.7" textLength="148" lengthAdjust="spacingAndGlyphs" fill="#111" stroke="#111" stroke-width="0.5">СА-250К.</text>
<text x="448" y="1451" font-family="Liberation Sans" font-size="37.7" textLength="685" lengthAdjust="spacingAndGlyphs" fill="#3a3a3a">Схема 1-1 (Схема-состав. Сварочный инвертор)</text>
</svg>
</body></html>
